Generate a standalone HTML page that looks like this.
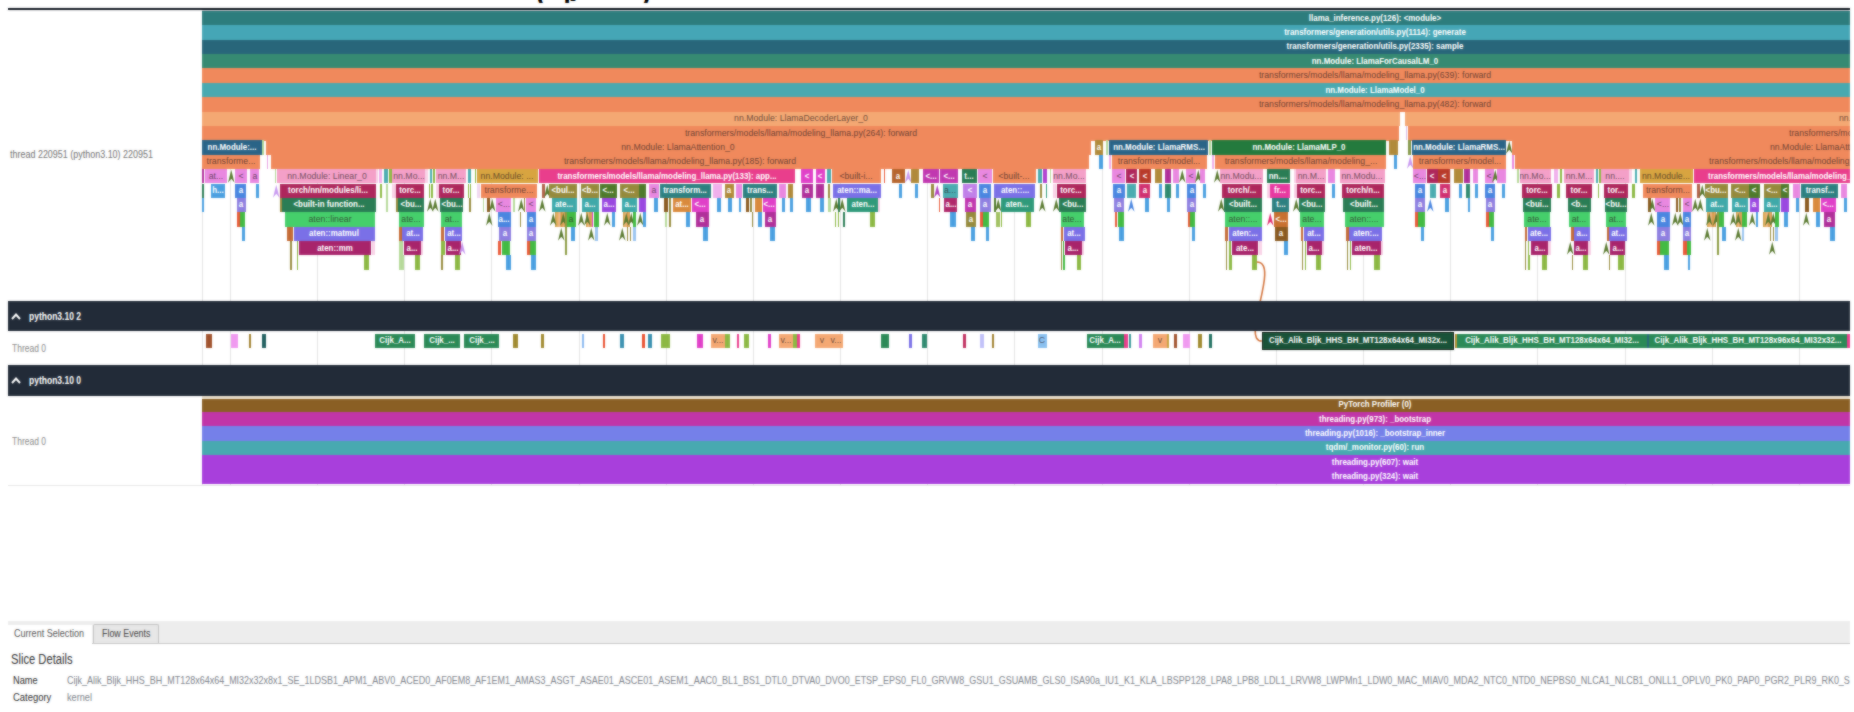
<!DOCTYPE html>
<html><head><meta charset="utf-8"><title>trace</title>
<style>
html,body{margin:0;padding:0;background:#fff}
body{width:1854px;height:712px;position:relative;overflow:hidden;font-family:"Liberation Sans",sans-serif}
#v{position:absolute;left:8px;top:0;width:1841.7px;height:712px;overflow:hidden}
#w{position:absolute;left:-8px;top:0;width:1854px;height:712px}
.s{position:absolute;overflow:hidden;white-space:nowrap}
.t{position:absolute;top:50%;margin-top:-6.6px;line-height:12px;font-size:9.5px;display:inline-block}
.w{color:#fff;font-weight:bold}
.d{color:rgba(45,32,30,.7)}
.c{position:absolute;overflow:visible}
.g{position:absolute;top:11px;width:1px;height:474px;background:#e5e5e5}
.hd{position:absolute;left:8px;width:1842px;background:#222b38;color:#fff}
.lbl{position:absolute;white-space:nowrap;display:inline-block;transform-origin:0 50%}
</style></head><body><div id="v"><div id="w">
<div class="g" style="left:201.6px"></div><div class="g" style="left:229.8px"></div><div class="g" style="left:317.0px"></div><div class="g" style="left:404.1px"></div><div class="g" style="left:491.3px"></div><div class="g" style="left:578.5px"></div><div class="g" style="left:665.7px"></div><div class="g" style="left:752.8px"></div><div class="g" style="left:840.0px"></div><div class="g" style="left:927.2px"></div><div class="g" style="left:1014.3px"></div><div class="g" style="left:1101.5px"></div><div class="g" style="left:1188.7px"></div><div class="g" style="left:1275.8px"></div><div class="g" style="left:1363.0px"></div><div class="g" style="left:1450.2px"></div><div class="g" style="left:1537.3px"></div><div class="g" style="left:1624.5px"></div><div class="g" style="left:1711.7px"></div><div class="g" style="left:1798.9px"></div>
<div class="s" style="left:8px;top:7.6px;width:1842px;height:2px;background:#0e141d"></div>
<div class="s" style="left:202px;top:9.6px;width:1648px;height:1.8px;background:linear-gradient(#aeb6bd,#dfe6e8)"></div>
<div class="s" style="left:530px;top:0;width:130px;height:3px"><span style="position:absolute;left:6px;top:-22.8px;font:bold 26px 'Liberation Sans',sans-serif;color:#000">(</span><span style="position:absolute;left:33.5px;top:-22.6px;font:bold 26px 'Liberation Sans',sans-serif;color:#000">p</span><span style="position:absolute;left:112px;top:-22.8px;font:bold 26px 'Liberation Sans',sans-serif;color:#000">)</span></div>
<div class="s" style="left:202.3px;top:11.4px;width:2345.7px;height:14.1px;background:#2e7d7d;"><span class="t w" style="left:50%;transform:translateX(-50%) scaleX(0.835)">llama_inference.py(126): &lt;module&gt;</span></div>
<div class="s" style="left:202.3px;top:25.2px;width:2345.7px;height:14.7px;background:#46a6b6;"><span class="t w" style="left:50%;transform:translateX(-50%) scaleX(0.835)">transformers/generation/utils.py(1114): generate</span></div>
<div class="s" style="left:202.3px;top:39.6px;width:2345.7px;height:14.7px;background:#28667a;"><span class="t w" style="left:50%;transform:translateX(-50%) scaleX(0.835)">transformers/generation/utils.py(2335): sample</span></div>
<div class="s" style="left:202.3px;top:54.0px;width:2345.7px;height:14.7px;background:#378b72;"><span class="t w" style="left:50%;transform:translateX(-50%) scaleX(0.835)">nn.Module: LlamaForCausalLM_0</span></div>
<div class="s" style="left:202.3px;top:68.4px;width:2345.7px;height:14.7px;background:#f0895c;"><span class="t d" style="left:50%;transform:translateX(-50%) scaleX(0.918)">transformers/models/llama/modeling_llama.py(639): forward</span></div>
<div class="s" style="left:202.3px;top:82.8px;width:2345.7px;height:14.7px;background:#49a9b0;"><span class="t w" style="left:50%;transform:translateX(-50%) scaleX(0.835)">nn.Module: LlamaModel_0</span></div>
<div class="s" style="left:202.3px;top:97.1px;width:2345.7px;height:14.7px;background:#f0895c;"><span class="t d" style="left:50%;transform:translateX(-50%) scaleX(0.918)">transformers/models/llama/modeling_llama.py(482): forward</span></div>
<div class="s" style="left:202.3px;top:111.5px;width:1198.1px;height:14.7px;background:#f4a873;"><span class="t d" style="left:50%;transform:translateX(-50%) scaleX(0.918)">nn.Module: LlamaDecoderLayer_0</span></div>
<div class="s" style="left:1404.9px;top:111.5px;width:445.1px;height:14.7px;background:#f4a873;"><span class="t d" style="left:434.1px;transform-origin:0 50%;transform:scaleX(0.918)">nn.Module: LlamaDecoderLayer_1</span></div>
<div class="s" style="left:202.3px;top:125.9px;width:1196.7px;height:14.7px;background:#f0895c;"><span class="t d" style="left:50%;transform:translateX(-50%) scaleX(0.918)">transformers/models/llama/modeling_llama.py(264): forward</span></div>
<div class="s" style="left:1405.8px;top:125.9px;width:1.4px;height:14.4px;background:#d8c0f0;"></div>
<div class="s" style="left:1407.5px;top:125.9px;width:442.5px;height:14.7px;background:#f0895c;"><span class="t d" style="left:381.9px;transform-origin:0 50%;transform:scaleX(0.918)">transformers/models/llama/modeling_llama.py(264): forward</span></div>
<div class="s" style="left:202.3px;top:140.3px;width:60.1px;height:14.4px;background:#2a6487;"><span class="t w" style="left:50%;transform:translateX(-50%) scaleX(0.835)">nn.Module:...</span></div>
<div class="s" style="left:262.4px;top:140.3px;width:1.6px;height:14.4px;background:#b5d99a;"></div>
<div class="s" style="left:265.6px;top:140.3px;width:825.4px;height:14.7px;background:#f0895c;"><span class="t d" style="left:50%;transform:translateX(-50%) scaleX(0.918)">nn.Module: LlamaAttention_0</span></div>
<div class="s" style="left:1094.8px;top:140.3px;width:8.4px;height:14.4px;background:#b08a3a;"><span class="t w" style="left:50%;transform:translateX(-50%) scaleX(0.835)">a</span></div>
<div class="s" style="left:1106.0px;top:140.3px;width:1.5px;height:14.4px;background:#b5d99a;"></div>
<div class="s" style="left:1109.0px;top:140.3px;width:99.3px;height:14.4px;background:#2a6487;"><span class="t w" style="left:50%;transform:translateX(-50%) scaleX(0.835)">nn.Module: LlamaRMS...</span></div>
<div class="s" style="left:1209.0px;top:140.3px;width:1.5px;height:14.4px;background:#b5d99a;"></div>
<div class="s" style="left:1212.0px;top:140.3px;width:174.3px;height:14.4px;background:#247a3d;"><span class="t w" style="left:50%;transform:translateX(-50%) scaleX(0.835)">nn.Module: LlamaMLP_0</span></div>
<div class="s" style="left:1389.0px;top:140.3px;width:9.3px;height:14.4px;background:#b08a3a;"></div>
<div class="s" style="left:1408.0px;top:140.3px;width:3.0px;height:14.4px;background:#84984a;"></div>
<div class="s" style="left:1411.5px;top:140.3px;width:94.9px;height:14.4px;background:#2a6487;"><span class="t w" style="left:50%;transform:translateX(-50%) scaleX(0.835)">nn.Module: LlamaRMS...</span></div>
<svg class="c" style="left:1505.8px;top:140.3px" width="6.5" height="14.39" viewBox="0 0 10 20"><path d="M5 0 L10 20 L5 14 L0 20 Z" fill="#5a7a30"/></svg>
<div class="s" style="left:1512.0px;top:140.3px;width:338.0px;height:14.7px;background:#f0895c;"><span class="t d" style="left:257.7px;transform-origin:0 50%;transform:scaleX(0.918)">nn.Module: LlamaAttention_1</span></div>
<div class="s" style="left:202.3px;top:154.7px;width:57.6px;height:14.4px;background:#f0895c;"><span class="t d" style="left:50%;transform:translateX(-50%) scaleX(0.918)">transforme...</span></div>
<div class="s" style="left:267.0px;top:154.7px;width:1.0px;height:14.4px;background:#e8a0e0;"></div>
<div class="s" style="left:271.2px;top:154.7px;width:817.8px;height:14.4px;background:#f0895c;"><span class="t d" style="left:50%;transform:translateX(-50%) scaleX(0.918)">transformers/models/llama/modeling_llama.py(185): forward</span></div>
<div class="s" style="left:1098.6px;top:154.7px;width:4.2px;height:14.4px;background:#4a9fe0;"></div>
<div class="s" style="left:1108.5px;top:154.7px;width:2.0px;height:14.4px;background:#f0b0ec;"></div>
<div class="s" style="left:1111.6px;top:154.7px;width:95.3px;height:14.4px;background:#f0895c;"><span class="t d" style="left:50%;transform:translateX(-50%) scaleX(0.918)">transformers/model...</span></div>
<div class="s" style="left:1212.0px;top:154.7px;width:2.0px;height:14.4px;background:#f0b0ec;"></div>
<div class="s" style="left:1215.3px;top:154.7px;width:171.0px;height:14.4px;background:#f0895c;"><span class="t d" style="left:50%;transform:translateX(-50%) scaleX(0.918)">transformers/models/llama/modeling_...</span></div>
<div class="s" style="left:1393.5px;top:154.7px;width:3.5px;height:14.4px;background:#4a9fe0;"></div>
<svg class="c" style="left:1406.8px;top:154.7px" width="6.5" height="14.39" viewBox="0 0 10 20"><path d="M5 0 L10 20 L5 14 L0 20 Z" fill="#c89af0"/></svg>
<div class="s" style="left:1413.0px;top:154.7px;width:93.4px;height:14.4px;background:#f0895c;"><span class="t d" style="left:50%;transform:translateX(-50%) scaleX(0.918)">transformers/model...</span></div>
<div class="s" style="left:1512.0px;top:154.7px;width:2.0px;height:14.4px;background:#e888e0;"></div>
<div class="s" style="left:1515.4px;top:154.7px;width:334.6px;height:14.4px;background:#f0895c;"><span class="t d" style="left:193.6px;transform-origin:0 50%;transform:scaleX(0.918)">transformers/models/llama/modeling_llama.py(185): forward</span></div>
<div class="s" style="left:202.4px;top:169.1px;width:2.1px;height:14.4px;background:#b0309a;"></div>
<div class="s" style="left:205.0px;top:169.1px;width:21.6px;height:14.4px;background:#e888e0;"><span class="t d" style="left:50%;transform:translateX(-50%) scaleX(0.918)">at...</span></div>
<svg class="c" style="left:228.2px;top:169.1px" width="6.5" height="14.39" viewBox="0 0 10 20"><path d="M5 0 L10 20 L5 14 L0 20 Z" fill="#5a7a30"/></svg>
<div class="s" style="left:235.0px;top:169.1px;width:11.6px;height:14.4px;background:#e888e0;"><span class="t d" style="left:50%;transform:translateX(-50%) scaleX(0.918)">&lt;</span></div>
<div class="s" style="left:250.0px;top:169.1px;width:9.0px;height:14.4px;background:#e888e0;"><span class="t d" style="left:50%;transform:translateX(-50%) scaleX(0.918)">a</span></div>
<div class="s" style="left:274.5px;top:169.1px;width:1.5px;height:14.4px;background:#b5d99a;"></div>
<div class="s" style="left:277.0px;top:169.1px;width:99.0px;height:14.4px;background:#f4a0c8;"><span class="t d" style="left:50%;transform:translateX(-50%) scaleX(0.918)">nn.Module: Linear_0</span></div>
<div class="s" style="left:376.0px;top:169.1px;width:2.0px;height:14.4px;background:#f9d2e6;"></div>
<div class="s" style="left:379.0px;top:169.1px;width:3.0px;height:14.4px;background:#f0b0ec;"></div>
<div class="s" style="left:383.5px;top:169.1px;width:4.2px;height:14.4px;background:#4aacb0;"></div>
<div class="s" style="left:389.0px;top:169.1px;width:2.7px;height:14.4px;background:#8cb843;"></div>
<div class="s" style="left:392.4px;top:169.1px;width:32.6px;height:14.4px;background:#f4a0c8;"><span class="t d" style="left:50%;transform:translateX(-50%) scaleX(0.918)">nn.Mo...</span></div>
<div class="s" style="left:425.0px;top:169.1px;width:3.0px;height:14.4px;background:#f9d2e6;"></div>
<div class="s" style="left:430.0px;top:169.1px;width:2.4px;height:14.4px;background:#4aacb0;"></div>
<div class="s" style="left:433.0px;top:169.1px;width:1.8px;height:14.4px;background:#8cb843;"></div>
<div class="s" style="left:435.5px;top:169.1px;width:30.5px;height:14.4px;background:#f4a0c8;"><span class="t d" style="left:50%;transform:translateX(-50%) scaleX(0.918)">nn.M...</span></div>
<div class="s" style="left:467.5px;top:169.1px;width:3.9px;height:14.4px;background:#4aacb0;"></div>
<div class="s" style="left:474.5px;top:169.1px;width:1.5px;height:14.4px;background:#8cb843;"></div>
<div class="s" style="left:477.0px;top:169.1px;width:60.7px;height:14.4px;background:#d8a440;"><span class="t d" style="left:50%;transform:translateX(-50%) scaleX(0.918)">nn.Module: ...</span></div>
<div class="s" style="left:538.8px;top:169.1px;width:255.8px;height:14.4px;background:#e83e8c;"><span class="t w" style="left:50%;transform:translateX(-50%) scaleX(0.835)">transformers/models/llama/modeling_llama.py(133): app...</span></div>
<div class="s" style="left:800.5px;top:169.1px;width:12.3px;height:14.4px;background:#e040c8;"><span class="t w" style="left:50%;transform:translateX(-50%) scaleX(0.835)">&lt;</span></div>
<div class="s" style="left:815.7px;top:169.1px;width:9.1px;height:14.4px;background:#e040c8;"><span class="t w" style="left:50%;transform:translateX(-50%) scaleX(0.835)">&lt;</span></div>
<div class="s" style="left:826.9px;top:169.1px;width:4.1px;height:14.4px;background:#4aacb0;"></div>
<div class="s" style="left:831.7px;top:169.1px;width:49.3px;height:14.4px;background:#f0895c;"><span class="t d" style="left:50%;transform:translateX(-50%) scaleX(0.918)">&lt;built-i...</span></div>
<div class="s" style="left:883.5px;top:169.1px;width:1.0px;height:14.4px;background:#e85a38;"></div>
<div class="s" style="left:891.5px;top:169.1px;width:13.3px;height:14.4px;background:#b5652d;"><span class="t w" style="left:50%;transform:translateX(-50%) scaleX(0.835)">a</span></div>
<svg class="c" style="left:905.2px;top:169.1px" width="6.5" height="14.39" viewBox="0 0 10 20"><path d="M5 0 L10 20 L5 14 L0 20 Z" fill="#c89af0"/></svg>
<div class="s" style="left:911.0px;top:169.1px;width:8.0px;height:14.4px;background:#b08a3a;"></div>
<div class="s" style="left:923.0px;top:169.1px;width:16.0px;height:14.4px;background:#c038b0;"><span class="t w" style="left:50%;transform:translateX(-50%) scaleX(0.835)">&lt;...</span></div>
<div class="s" style="left:939.5px;top:169.1px;width:18.0px;height:14.4px;background:#c038b0;"><span class="t w" style="left:50%;transform:translateX(-50%) scaleX(0.835)">&lt;...</span></div>
<div class="s" style="left:961.7px;top:169.1px;width:15.1px;height:14.4px;background:#2a7d55;"><span class="t w" style="left:50%;transform:translateX(-50%) scaleX(0.835)">t...</span></div>
<div class="s" style="left:978.0px;top:169.1px;width:13.6px;height:14.4px;background:#e888e0;"><span class="t d" style="left:50%;transform:translateX(-50%) scaleX(0.918)">&lt;</span></div>
<div class="s" style="left:992.6px;top:169.1px;width:43.2px;height:14.4px;background:#f0895c;"><span class="t d" style="left:50%;transform:translateX(-50%) scaleX(0.918)">&lt;built-...</span></div>
<div class="s" style="left:1038.3px;top:169.1px;width:3.7px;height:14.4px;background:#4aacb0;"></div>
<div class="s" style="left:1042.8px;top:169.1px;width:4.6px;height:14.4px;background:#b040d0;"></div>
<div class="s" style="left:1049.5px;top:169.1px;width:1.5px;height:14.4px;background:#b5d99a;"></div>
<div class="s" style="left:1052.7px;top:169.1px;width:33.3px;height:14.4px;background:#f4a0c8;"><span class="t d" style="left:50%;transform:translateX(-50%) scaleX(0.918)">nn.Mo...</span></div>
<div class="s" style="left:1112.0px;top:169.1px;width:13.3px;height:14.4px;background:#e888e0;"><span class="t d" style="left:50%;transform:translateX(-50%) scaleX(0.918)">&lt;</span></div>
<div class="s" style="left:1126.4px;top:169.1px;width:10.9px;height:14.4px;background:#ae275c;"><span class="t w" style="left:50%;transform:translateX(-50%) scaleX(0.835)">&lt;</span></div>
<div class="s" style="left:1139.0px;top:169.1px;width:12.2px;height:14.4px;background:#b83a2a;"><span class="t w" style="left:50%;transform:translateX(-50%) scaleX(0.835)">&lt;</span></div>
<div class="s" style="left:1155.4px;top:169.1px;width:6.8px;height:14.4px;background:#b08a3a;"></div>
<div class="s" style="left:1164.7px;top:169.1px;width:5.9px;height:14.4px;background:#b0309a;"></div>
<div class="s" style="left:1172.7px;top:169.1px;width:6.7px;height:14.4px;background:#e888e0;"></div>
<svg class="c" style="left:1179.2px;top:169.1px" width="6.5" height="14.39" viewBox="0 0 10 20"><path d="M5 0 L10 20 L5 14 L0 20 Z" fill="#5a7a30"/></svg>
<div class="s" style="left:1186.4px;top:169.1px;width:9.9px;height:14.4px;background:#e888e0;"><span class="t d" style="left:50%;transform:translateX(-50%) scaleX(0.918)">&lt;</span></div>
<svg class="c" style="left:1194.5px;top:169.1px" width="6.5" height="14.39" viewBox="0 0 10 20"><path d="M5 0 L10 20 L5 14 L0 20 Z" fill="#5a7a30"/></svg>
<div class="s" style="left:1199.5px;top:169.1px;width:5.9px;height:14.4px;background:#e888e0;"></div>
<svg class="c" style="left:1214.2px;top:169.1px" width="6.5" height="14.39" viewBox="0 0 10 20"><path d="M5 0 L10 20 L5 14 L0 20 Z" fill="#5a7a30"/></svg>
<div class="s" style="left:1220.0px;top:169.1px;width:42.7px;height:14.4px;background:#f4a0c8;"><span class="t d" style="left:50%;transform:translateX(-50%) scaleX(0.918)">nn.Modu...</span></div>
<div class="s" style="left:1266.5px;top:169.1px;width:23.5px;height:14.4px;background:#2a7d55;"><span class="t w" style="left:50%;transform:translateX(-50%) scaleX(0.835)">nn....</span></div>
<div class="s" style="left:1293.5px;top:169.1px;width:2.5px;height:14.4px;background:#f9d2e6;"></div>
<div class="s" style="left:1296.0px;top:169.1px;width:29.9px;height:14.4px;background:#f4a0c8;"><span class="t d" style="left:50%;transform:translateX(-50%) scaleX(0.918)">nn.M...</span></div>
<div class="s" style="left:1327.5px;top:169.1px;width:7.2px;height:14.4px;background:#e888e0;"></div>
<div class="s" style="left:1340.0px;top:169.1px;width:44.8px;height:14.4px;background:#f4a0c8;"><span class="t d" style="left:50%;transform:translateX(-50%) scaleX(0.918)">nn.Modu...</span></div>
<div class="s" style="left:1413.0px;top:169.1px;width:13.3px;height:14.4px;background:#e888e0;"><span class="t d" style="left:50%;transform:translateX(-50%) scaleX(0.918)">&lt;...</span></div>
<div class="s" style="left:1427.0px;top:169.1px;width:10.6px;height:14.4px;background:#ae275c;"><span class="t w" style="left:50%;transform:translateX(-50%) scaleX(0.835)">&lt;</span></div>
<div class="s" style="left:1438.4px;top:169.1px;width:11.2px;height:14.4px;background:#b83a2a;"><span class="t w" style="left:50%;transform:translateX(-50%) scaleX(0.835)">&lt;</span></div>
<div class="s" style="left:1454.4px;top:169.1px;width:8.4px;height:14.4px;background:#b08a3a;"></div>
<div class="s" style="left:1464.2px;top:169.1px;width:6.2px;height:14.4px;background:#b0309a;"></div>
<div class="s" style="left:1472.7px;top:169.1px;width:5.6px;height:14.4px;background:#e888e0;"></div>
<div class="s" style="left:1484.5px;top:169.1px;width:9.2px;height:14.4px;background:#e888e0;"><span class="t d" style="left:50%;transform:translateX(-50%) scaleX(0.918)">&lt;</span></div>
<svg class="c" style="left:1492.2px;top:169.1px" width="6.5" height="14.39" viewBox="0 0 10 20"><path d="M5 0 L10 20 L5 14 L0 20 Z" fill="#5a7a30"/></svg>
<div class="s" style="left:1497.4px;top:169.1px;width:8.4px;height:14.4px;background:#e888e0;"></div>
<div class="s" style="left:1517.0px;top:169.1px;width:2.0px;height:14.4px;background:#b5d99a;"></div>
<div class="s" style="left:1519.8px;top:169.1px;width:30.9px;height:14.4px;background:#f4a0c8;"><span class="t d" style="left:50%;transform:translateX(-50%) scaleX(0.918)">nn.Mo...</span></div>
<div class="s" style="left:1554.0px;top:169.1px;width:3.5px;height:14.4px;background:#f0b0ec;"></div>
<div class="s" style="left:1559.7px;top:169.1px;width:2.3px;height:14.4px;background:#8cb843;"></div>
<div class="s" style="left:1564.0px;top:169.1px;width:30.0px;height:14.4px;background:#f4a0c8;"><span class="t d" style="left:50%;transform:translateX(-50%) scaleX(0.918)">nn.M...</span></div>
<div class="s" style="left:1596.2px;top:169.1px;width:1.8px;height:14.4px;background:#4aacb0;"></div>
<div class="s" style="left:1598.5px;top:169.1px;width:2.0px;height:14.4px;background:#8cb843;"></div>
<div class="s" style="left:1601.2px;top:169.1px;width:28.1px;height:14.4px;background:#f4a0c8;"><span class="t d" style="left:50%;transform:translateX(-50%) scaleX(0.918)">nn....</span></div>
<div class="s" style="left:1629.3px;top:169.1px;width:2.7px;height:14.4px;background:#f9d2e6;"></div>
<div class="s" style="left:1635.0px;top:169.1px;width:2.0px;height:14.4px;background:#4aacb0;"></div>
<div class="s" style="left:1640.0px;top:169.1px;width:52.5px;height:14.4px;background:#d8a440;"><span class="t d" style="left:50%;transform:translateX(-50%) scaleX(0.918)">nn.Module...</span></div>
<div class="s" style="left:1694.0px;top:169.1px;width:156.0px;height:14.4px;background:#e83e8c;"><span class="t w" style="left:14.0px;transform-origin:0 50%;transform:scaleX(0.835)">transformers/models/llama/modeling_llama.py(133): apply_rotary_pos_emb</span></div>
<div class="s" style="left:202.4px;top:183.5px;width:2.1px;height:14.4px;background:#2a7d55;"></div>
<div class="s" style="left:211.4px;top:183.5px;width:14.1px;height:14.4px;background:#4a9fe0;"><span class="t w" style="left:50%;transform:translateX(-50%) scaleX(0.835)">h...</span></div>
<div class="s" style="left:235.4px;top:183.5px;width:10.8px;height:14.4px;background:#4a86e0;"><span class="t w" style="left:50%;transform:translateX(-50%) scaleX(0.835)">a</span></div>
<div class="s" style="left:256.0px;top:183.5px;width:2.8px;height:14.4px;background:#4a9fe0;"></div>
<svg class="c" style="left:273.2px;top:183.5px" width="6.5" height="14.39" viewBox="0 0 10 20"><path d="M5 0 L10 20 L5 14 L0 20 Z" fill="#c89af0"/></svg>
<div class="s" style="left:280.3px;top:183.5px;width:95.7px;height:14.4px;background:#ae275c;"><span class="t w" style="left:50%;transform:translateX(-50%) scaleX(0.835)">torch/nn/modules/li...</span></div>
<div class="s" style="left:380.3px;top:183.5px;width:2.1px;height:14.4px;background:#8cb843;"></div>
<div class="s" style="left:385.6px;top:183.5px;width:2.1px;height:14.4px;background:#b5d99a;"></div>
<div class="s" style="left:392.4px;top:183.5px;width:3.6px;height:14.4px;background:#f9d2e6;"></div>
<div class="s" style="left:396.0px;top:183.5px;width:28.4px;height:14.4px;background:#ae275c;"><span class="t w" style="left:50%;transform:translateX(-50%) scaleX(0.835)">torc...</span></div>
<div class="s" style="left:428.5px;top:183.5px;width:1.5px;height:14.4px;background:#8cb843;"></div>
<div class="s" style="left:431.0px;top:183.5px;width:1.5px;height:14.4px;background:#8cb843;"></div>
<div class="s" style="left:435.5px;top:183.5px;width:3.2px;height:14.4px;background:#f9d2e6;"></div>
<div class="s" style="left:438.7px;top:183.5px;width:25.3px;height:14.4px;background:#ae275c;"><span class="t w" style="left:50%;transform:translateX(-50%) scaleX(0.835)">tor...</span></div>
<div class="s" style="left:467.5px;top:183.5px;width:1.5px;height:14.4px;background:#8cb843;"></div>
<div class="s" style="left:470.0px;top:183.5px;width:1.0px;height:14.4px;background:#8cb843;"></div>
<div class="s" style="left:477.3px;top:183.5px;width:3.2px;height:14.4px;background:#f0d8f0;"></div>
<div class="s" style="left:480.8px;top:183.5px;width:55.8px;height:14.4px;background:#f0895c;"><span class="t d" style="left:50%;transform:translateX(-50%) scaleX(0.918)">transforme...</span></div>
<div class="s" style="left:542.0px;top:183.5px;width:3.0px;height:14.4px;background:#b06048;"></div>
<svg class="c" style="left:543.5px;top:183.5px" width="6.5" height="14.39" viewBox="0 0 10 20"><path d="M5 0 L10 20 L5 14 L0 20 Z" fill="#5a7a30"/></svg>
<div class="s" style="left:549.4px;top:183.5px;width:28.0px;height:14.4px;background:#968a3c;"><span class="t w" style="left:50%;transform:translateX(-50%) scaleX(0.835)">&lt;bul...</span></div>
<div class="s" style="left:581.2px;top:183.5px;width:18.3px;height:14.4px;background:#968a3c;"><span class="t w" style="left:50%;transform:translateX(-50%) scaleX(0.835)">&lt;b...</span></div>
<div class="s" style="left:599.5px;top:183.5px;width:17.3px;height:14.4px;background:#4f7a2c;"><span class="t w" style="left:50%;transform:translateX(-50%) scaleX(0.835)">&lt;...</span></div>
<div class="s" style="left:620.0px;top:183.5px;width:18.5px;height:14.4px;background:#968a3c;"><span class="t w" style="left:50%;transform:translateX(-50%) scaleX(0.835)">&lt;...</span></div>
<div class="s" style="left:638.5px;top:183.5px;width:7.8px;height:14.4px;background:#4f7a2c;"></div>
<div class="s" style="left:649.0px;top:183.5px;width:10.0px;height:14.4px;background:#e888e0;"><span class="t d" style="left:50%;transform:translateX(-50%) scaleX(0.918)">a</span></div>
<div class="s" style="left:660.0px;top:183.5px;width:50.7px;height:14.4px;background:#2e8080;"><span class="t w" style="left:50%;transform:translateX(-50%) scaleX(0.835)">transform...</span></div>
<div class="s" style="left:713.0px;top:183.5px;width:8.7px;height:14.4px;background:#f0b0ec;"></div>
<div class="s" style="left:724.8px;top:183.5px;width:9.1px;height:14.4px;background:#b08a3a;"><span class="t w" style="left:50%;transform:translateX(-50%) scaleX(0.835)">a</span></div>
<div class="s" style="left:736.0px;top:183.5px;width:5.7px;height:14.4px;background:#e888e0;"></div>
<div class="s" style="left:743.0px;top:183.5px;width:34.0px;height:14.4px;background:#2e8080;"><span class="t w" style="left:50%;transform:translateX(-50%) scaleX(0.835)">trans...</span></div>
<div class="s" style="left:779.0px;top:183.5px;width:6.8px;height:14.4px;background:#e888e0;"></div>
<div class="s" style="left:788.0px;top:183.5px;width:4.8px;height:14.4px;background:#b08a3a;"></div>
<div class="s" style="left:801.6px;top:183.5px;width:11.2px;height:14.4px;background:#b0309a;"><span class="t w" style="left:50%;transform:translateX(-50%) scaleX(0.835)">a</span></div>
<div class="s" style="left:815.7px;top:183.5px;width:8.3px;height:14.4px;background:#b0309a;"></div>
<div class="s" style="left:827.5px;top:183.5px;width:2.5px;height:14.4px;background:#968a3c;"></div>
<div class="s" style="left:833.0px;top:183.5px;width:47.6px;height:14.4px;background:#7a70e6;"><span class="t w" style="left:50%;transform:translateX(-50%) scaleX(0.835)">aten::ma...</span></div>
<div class="s" style="left:898.5px;top:183.5px;width:3.1px;height:14.4px;background:#4a9fe0;"></div>
<div class="s" style="left:914.7px;top:183.5px;width:3.8px;height:14.4px;background:#4a9fe0;"></div>
<div class="s" style="left:931.0px;top:183.5px;width:3.0px;height:14.4px;background:#968a3c;"></div>
<svg class="c" style="left:933.5px;top:183.5px" width="6.5" height="14.39" viewBox="0 0 10 20"><path d="M5 0 L10 20 L5 14 L0 20 Z" fill="#b040c0"/></svg>
<div class="s" style="left:943.0px;top:183.5px;width:14.5px;height:14.4px;background:#4aacb0;"><span class="t d" style="left:50%;transform:translateX(-50%) scaleX(0.918)">a...</span></div>
<div class="s" style="left:962.7px;top:183.5px;width:14.1px;height:14.4px;background:#c080e8;"><span class="t w" style="left:50%;transform:translateX(-50%) scaleX(0.835)">&lt;</span></div>
<div class="s" style="left:979.0px;top:183.5px;width:12.2px;height:14.4px;background:#4a86e0;"><span class="t w" style="left:50%;transform:translateX(-50%) scaleX(0.835)">a</span></div>
<div class="s" style="left:994.3px;top:183.5px;width:40.9px;height:14.4px;background:#7a70e6;"><span class="t w" style="left:50%;transform:translateX(-50%) scaleX(0.835)">aten::...</span></div>
<div class="s" style="left:1040.0px;top:183.5px;width:2.0px;height:14.4px;background:#968a3c;"></div>
<div class="s" style="left:1045.5px;top:183.5px;width:1.5px;height:14.4px;background:#2f9a7a;"></div>
<div class="s" style="left:1052.7px;top:183.5px;width:3.8px;height:14.4px;background:#f9d2e6;"></div>
<div class="s" style="left:1056.5px;top:183.5px;width:29.5px;height:14.4px;background:#ae275c;"><span class="t w" style="left:50%;transform:translateX(-50%) scaleX(0.835)">torc...</span></div>
<div class="s" style="left:1113.3px;top:183.5px;width:11.4px;height:14.4px;background:#4a86e0;"><span class="t w" style="left:50%;transform:translateX(-50%) scaleX(0.835)">a</span></div>
<div class="s" style="left:1127.4px;top:183.5px;width:9.1px;height:14.4px;background:#4aacb0;"></div>
<div class="s" style="left:1139.4px;top:183.5px;width:10.6px;height:14.4px;background:#d03070;"><span class="t w" style="left:50%;transform:translateX(-50%) scaleX(0.835)">a</span></div>
<div class="s" style="left:1159.0px;top:183.5px;width:3.0px;height:14.4px;background:#4a9fe0;"></div>
<div class="s" style="left:1165.3px;top:183.5px;width:5.3px;height:14.4px;background:#2f8a70;"></div>
<div class="s" style="left:1176.3px;top:183.5px;width:3.2px;height:14.4px;background:#4a9fe0;"></div>
<div class="s" style="left:1187.3px;top:183.5px;width:9.0px;height:14.4px;background:#4a86e0;"><span class="t w" style="left:50%;transform:translateX(-50%) scaleX(0.835)">a</span></div>
<div class="s" style="left:1203.3px;top:183.5px;width:2.5px;height:14.4px;background:#4a9fe0;"></div>
<div class="s" style="left:1222.2px;top:183.5px;width:40.0px;height:14.4px;background:#ae275c;"><span class="t w" style="left:50%;transform:translateX(-50%) scaleX(0.835)">torch/...</span></div>
<div class="s" style="left:1267.0px;top:183.5px;width:3.0px;height:14.4px;background:#f9d2e6;"></div>
<div class="s" style="left:1270.0px;top:183.5px;width:19.6px;height:14.4px;background:#e838a0;"><span class="t w" style="left:50%;transform:translateX(-50%) scaleX(0.835)">fr...</span></div>
<div class="s" style="left:1294.0px;top:183.5px;width:2.8px;height:14.4px;background:#f9d2e6;"></div>
<div class="s" style="left:1296.8px;top:183.5px;width:28.6px;height:14.4px;background:#ae275c;"><span class="t w" style="left:50%;transform:translateX(-50%) scaleX(0.835)">torc...</span></div>
<div class="s" style="left:1332.0px;top:183.5px;width:2.7px;height:14.4px;background:#4a9fe0;"></div>
<div class="s" style="left:1342.3px;top:183.5px;width:42.1px;height:14.4px;background:#ae275c;"><span class="t w" style="left:50%;transform:translateX(-50%) scaleX(0.835)">torch/n...</span></div>
<div class="s" style="left:1415.0px;top:183.5px;width:10.0px;height:14.4px;background:#4a86e0;"><span class="t w" style="left:50%;transform:translateX(-50%) scaleX(0.835)">a</span></div>
<div class="s" style="left:1430.0px;top:183.5px;width:6.2px;height:14.4px;background:#4aacb0;"></div>
<div class="s" style="left:1440.4px;top:183.5px;width:9.2px;height:14.4px;background:#d03070;"><span class="t w" style="left:50%;transform:translateX(-50%) scaleX(0.835)">a</span></div>
<div class="s" style="left:1458.6px;top:183.5px;width:3.4px;height:14.4px;background:#4a9fe0;"></div>
<div class="s" style="left:1465.6px;top:183.5px;width:4.3px;height:14.4px;background:#2f8a70;"></div>
<div class="s" style="left:1475.0px;top:183.5px;width:2.7px;height:14.4px;background:#4a9fe0;"></div>
<div class="s" style="left:1485.3px;top:183.5px;width:9.3px;height:14.4px;background:#4a86e0;"><span class="t w" style="left:50%;transform:translateX(-50%) scaleX(0.835)">a</span></div>
<div class="s" style="left:1502.0px;top:183.5px;width:3.0px;height:14.4px;background:#4a9fe0;"></div>
<div class="s" style="left:1521.8px;top:183.5px;width:30.1px;height:14.4px;background:#ae275c;"><span class="t w" style="left:50%;transform:translateX(-50%) scaleX(0.835)">torc...</span></div>
<div class="s" style="left:1557.0px;top:183.5px;width:2.5px;height:14.4px;background:#8cb843;"></div>
<div class="s" style="left:1566.0px;top:183.5px;width:26.0px;height:14.4px;background:#ae275c;"><span class="t w" style="left:50%;transform:translateX(-50%) scaleX(0.835)">tor...</span></div>
<div class="s" style="left:1597.5px;top:183.5px;width:1.5px;height:14.4px;background:#8cb843;"></div>
<div class="s" style="left:1603.5px;top:183.5px;width:24.5px;height:14.4px;background:#ae275c;"><span class="t w" style="left:50%;transform:translateX(-50%) scaleX(0.835)">tor...</span></div>
<div class="s" style="left:1632.0px;top:183.5px;width:2.5px;height:14.4px;background:#8cb843;"></div>
<div class="s" style="left:1642.8px;top:183.5px;width:49.7px;height:14.4px;background:#f0895c;"><span class="t d" style="left:50%;transform:translateX(-50%) scaleX(0.918)">transform...</span></div>
<div class="s" style="left:1697.0px;top:183.5px;width:3.0px;height:14.4px;background:#b06048;"></div>
<svg class="c" style="left:1698.8px;top:183.5px" width="6.5" height="14.39" viewBox="0 0 10 20"><path d="M5 0 L10 20 L5 14 L0 20 Z" fill="#5a7a30"/></svg>
<div class="s" style="left:1704.6px;top:183.5px;width:23.0px;height:14.4px;background:#968a3c;"><span class="t w" style="left:50%;transform:translateX(-50%) scaleX(0.835)">&lt;bu...</span></div>
<div class="s" style="left:1731.0px;top:183.5px;width:17.7px;height:14.4px;background:#968a3c;"><span class="t w" style="left:50%;transform:translateX(-50%) scaleX(0.835)">&lt;...</span></div>
<div class="s" style="left:1748.7px;top:183.5px;width:11.3px;height:14.4px;background:#4f7a2c;"><span class="t w" style="left:50%;transform:translateX(-50%) scaleX(0.835)">&lt;</span></div>
<div class="s" style="left:1763.5px;top:183.5px;width:17.5px;height:14.4px;background:#968a3c;"><span class="t w" style="left:50%;transform:translateX(-50%) scaleX(0.835)">&lt;...</span></div>
<div class="s" style="left:1781.0px;top:183.5px;width:8.4px;height:14.4px;background:#4f7a2c;"><span class="t w" style="left:50%;transform:translateX(-50%) scaleX(0.835)">&lt;</span></div>
<div class="s" style="left:1792.7px;top:183.5px;width:7.3px;height:14.4px;background:#e888e0;"></div>
<div class="s" style="left:1801.2px;top:183.5px;width:37.3px;height:14.4px;background:#2e8080;"><span class="t w" style="left:50%;transform:translateX(-50%) scaleX(0.835)">transf...</span></div>
<div class="s" style="left:1841.3px;top:183.5px;width:5.7px;height:14.4px;background:#e888e0;"></div>
<div class="s" style="left:202.4px;top:197.9px;width:1.4px;height:14.4px;background:#4a9fe0;"></div>
<div class="s" style="left:237.0px;top:197.9px;width:8.5px;height:14.4px;background:#8e7fe0;"><span class="t w" style="left:50%;transform:translateX(-50%) scaleX(0.835)">a</span></div>
<div class="s" style="left:280.0px;top:197.9px;width:2.4px;height:14.4px;background:#968a3c;"></div>
<div class="s" style="left:282.4px;top:197.9px;width:93.6px;height:14.4px;background:#2a7d55;"><span class="t w" style="left:50%;transform:translateX(-50%) scaleX(0.835)">&lt;built-in function...</span></div>
<div class="s" style="left:385.6px;top:197.9px;width:2.1px;height:14.4px;background:#b5d99a;"></div>
<div class="s" style="left:395.5px;top:197.9px;width:2.1px;height:14.4px;background:#968a3c;"></div>
<div class="s" style="left:397.6px;top:197.9px;width:26.8px;height:14.4px;background:#2a7d55;"><span class="t w" style="left:50%;transform:translateX(-50%) scaleX(0.835)">&lt;bu...</span></div>
<svg class="c" style="left:427.2px;top:197.9px" width="6.5" height="14.39" viewBox="0 0 10 20"><path d="M5 0 L10 20 L5 14 L0 20 Z" fill="#5a7a30"/></svg>
<svg class="c" style="left:431.8px;top:197.9px" width="6.5" height="14.39" viewBox="0 0 10 20"><path d="M5 0 L10 20 L5 14 L0 20 Z" fill="#5a7a30"/></svg>
<div class="s" style="left:440.0px;top:197.9px;width:23.3px;height:14.4px;background:#2a7d55;"><span class="t w" style="left:50%;transform:translateX(-50%) scaleX(0.835)">&lt;bu...</span></div>
<div class="s" style="left:469.2px;top:197.9px;width:1.6px;height:14.4px;background:#968a3c;"></div>
<div class="s" style="left:483.0px;top:197.9px;width:1.0px;height:14.4px;background:#b5d99a;"></div>
<div class="s" style="left:487.0px;top:197.9px;width:3.0px;height:14.4px;background:#8a5a20;"></div>
<svg class="c" style="left:489.2px;top:197.9px" width="6.5" height="14.39" viewBox="0 0 10 20"><path d="M5 0 L10 20 L5 14 L0 20 Z" fill="#5a7a30"/></svg>
<div class="s" style="left:496.0px;top:197.9px;width:15.0px;height:14.4px;background:#e888e0;"><span class="t d" style="left:50%;transform:translateX(-50%) scaleX(0.918)">&lt;...</span></div>
<div class="s" style="left:512.5px;top:197.9px;width:2.0px;height:14.4px;background:#b5d99a;"></div>
<svg class="c" style="left:518.2px;top:197.9px" width="6.5" height="14.39" viewBox="0 0 10 20"><path d="M5 0 L10 20 L5 14 L0 20 Z" fill="#5a7a30"/></svg>
<div class="s" style="left:523.5px;top:197.9px;width:1.5px;height:14.4px;background:#968a3c;"></div>
<div class="s" style="left:525.7px;top:197.9px;width:10.5px;height:14.4px;background:#e888e0;"><span class="t d" style="left:50%;transform:translateX(-50%) scaleX(0.918)">&lt;</span></div>
<svg class="c" style="left:539.2px;top:197.9px" width="6.5" height="14.39" viewBox="0 0 10 20"><path d="M5 0 L10 20 L5 14 L0 20 Z" fill="#5a7a30"/></svg>
<div class="s" style="left:552.0px;top:197.9px;width:24.8px;height:14.4px;background:#3fa9a9;"><span class="t w" style="left:50%;transform:translateX(-50%) scaleX(0.835)">ate...</span></div>
<div class="s" style="left:582.0px;top:197.9px;width:16.5px;height:14.4px;background:#3fa9a9;"><span class="t w" style="left:50%;transform:translateX(-50%) scaleX(0.835)">a...</span></div>
<div class="s" style="left:602.0px;top:197.9px;width:14.0px;height:14.4px;background:#9a48e0;"><span class="t w" style="left:50%;transform:translateX(-50%) scaleX(0.835)">a...</span></div>
<div class="s" style="left:622.0px;top:197.9px;width:15.4px;height:14.4px;background:#3fa9a9;"><span class="t w" style="left:50%;transform:translateX(-50%) scaleX(0.835)">a...</span></div>
<div class="s" style="left:638.5px;top:197.9px;width:7.3px;height:14.4px;background:#9a48e0;"></div>
<div class="s" style="left:654.0px;top:197.9px;width:4.0px;height:14.4px;background:#4a9fe0;"></div>
<div class="s" style="left:664.4px;top:197.9px;width:3.6px;height:14.4px;background:#8a5a20;"></div>
<div class="s" style="left:669.4px;top:197.9px;width:1.4px;height:14.4px;background:#968a3c;"></div>
<div class="s" style="left:673.0px;top:197.9px;width:18.0px;height:14.4px;background:#d98a3d;"><span class="t w" style="left:50%;transform:translateX(-50%) scaleX(0.835)">at...</span></div>
<div class="s" style="left:691.8px;top:197.9px;width:17.2px;height:14.4px;background:#e040c8;"><span class="t w" style="left:50%;transform:translateX(-50%) scaleX(0.835)">&lt;...</span></div>
<div class="s" style="left:717.0px;top:197.9px;width:3.6px;height:14.4px;background:#4a9fe0;"></div>
<div class="s" style="left:728.0px;top:197.9px;width:4.0px;height:14.4px;background:#4a9fe0;"></div>
<div class="s" style="left:738.5px;top:197.9px;width:2.1px;height:14.4px;background:#4a9fe0;"></div>
<div class="s" style="left:746.0px;top:197.9px;width:3.0px;height:14.4px;background:#8a5a20;"></div>
<div class="s" style="left:750.0px;top:197.9px;width:2.0px;height:14.4px;background:#968a3c;"></div>
<div class="s" style="left:754.6px;top:197.9px;width:7.4px;height:14.4px;background:#d98a3d;"></div>
<div class="s" style="left:762.6px;top:197.9px;width:13.7px;height:14.4px;background:#e040c8;"><span class="t w" style="left:50%;transform:translateX(-50%) scaleX(0.835)">&lt;...</span></div>
<div class="s" style="left:782.0px;top:197.9px;width:3.4px;height:14.4px;background:#4a9fe0;"></div>
<div class="s" style="left:789.6px;top:197.9px;width:3.2px;height:14.4px;background:#4a9fe0;"></div>
<div class="s" style="left:805.8px;top:197.9px;width:5.2px;height:14.4px;background:#4a9fe0;"></div>
<div class="s" style="left:820.0px;top:197.9px;width:3.7px;height:14.4px;background:#4a9fe0;"></div>
<div class="s" style="left:828.3px;top:197.9px;width:2.7px;height:14.4px;background:#b5d99a;"></div>
<svg class="c" style="left:833.2px;top:197.9px" width="6.5" height="14.39" viewBox="0 0 10 20"><path d="M5 0 L10 20 L5 14 L0 20 Z" fill="#5a7a30"/></svg>
<div class="s" style="left:838.3px;top:197.9px;width:1.5px;height:14.4px;background:#2a7d55;"></div>
<svg class="c" style="left:838.8px;top:197.9px" width="6.5" height="14.39" viewBox="0 0 10 20"><path d="M5 0 L10 20 L5 14 L0 20 Z" fill="#5a7a30"/></svg>
<div class="s" style="left:847.3px;top:197.9px;width:30.7px;height:14.4px;background:#2f9a7a;"><span class="t w" style="left:50%;transform:translateX(-50%) scaleX(0.835)">aten...</span></div>
<div class="s" style="left:878.0px;top:197.9px;width:2.0px;height:14.4px;background:#f9d2e6;"></div>
<div class="s" style="left:938.5px;top:197.9px;width:1.5px;height:14.4px;background:#e85a38;"></div>
<div class="s" style="left:943.8px;top:197.9px;width:13.7px;height:14.4px;background:#b0286a;"><span class="t w" style="left:50%;transform:translateX(-50%) scaleX(0.835)">a...</span></div>
<div class="s" style="left:964.6px;top:197.9px;width:11.8px;height:14.4px;background:#c038b0;"><span class="t w" style="left:50%;transform:translateX(-50%) scaleX(0.835)">a</span></div>
<div class="s" style="left:980.0px;top:197.9px;width:10.5px;height:14.4px;background:#8e7fe0;"><span class="t w" style="left:50%;transform:translateX(-50%) scaleX(0.835)">a</span></div>
<div class="s" style="left:994.3px;top:197.9px;width:1.7px;height:14.4px;background:#4f7a2c;"></div>
<svg class="c" style="left:994.8px;top:197.9px" width="6.5" height="14.39" viewBox="0 0 10 20"><path d="M5 0 L10 20 L5 14 L0 20 Z" fill="#5a7a30"/></svg>
<div class="s" style="left:1001.0px;top:197.9px;width:32.7px;height:14.4px;background:#2f9a7a;"><span class="t w" style="left:50%;transform:translateX(-50%) scaleX(0.835)">aten...</span></div>
<svg class="c" style="left:1038.8px;top:197.9px" width="6.5" height="14.39" viewBox="0 0 10 20"><path d="M5 0 L10 20 L5 14 L0 20 Z" fill="#5a7a30"/></svg>
<svg class="c" style="left:1053.2px;top:197.9px" width="6.5" height="14.39" viewBox="0 0 10 20"><path d="M5 0 L10 20 L5 14 L0 20 Z" fill="#5a7a30"/></svg>
<div class="s" style="left:1059.0px;top:197.9px;width:27.0px;height:14.4px;background:#2a7d55;"><span class="t w" style="left:50%;transform:translateX(-50%) scaleX(0.835)">&lt;bu...</span></div>
<div class="s" style="left:1113.7px;top:197.9px;width:10.2px;height:14.4px;background:#8e7fe0;"><span class="t w" style="left:50%;transform:translateX(-50%) scaleX(0.835)">a</span></div>
<svg class="c" style="left:1127.8px;top:197.9px" width="6.5" height="14.39" viewBox="0 0 10 20"><path d="M5 0 L10 20 L5 14 L0 20 Z" fill="#4a86e0"/></svg>
<div class="s" style="left:1145.3px;top:197.9px;width:3.7px;height:14.4px;background:#4a9fe0;"></div>
<div class="s" style="left:1167.0px;top:197.9px;width:3.2px;height:14.4px;background:#4a9fe0;"></div>
<div class="s" style="left:1187.3px;top:197.9px;width:9.0px;height:14.4px;background:#8e7fe0;"><span class="t w" style="left:50%;transform:translateX(-50%) scaleX(0.835)">a</span></div>
<svg class="c" style="left:1218.0px;top:197.9px" width="6.5" height="14.39" viewBox="0 0 10 20"><path d="M5 0 L10 20 L5 14 L0 20 Z" fill="#5a7a30"/></svg>
<div class="s" style="left:1223.7px;top:197.9px;width:38.5px;height:14.4px;background:#2a7d55;"><span class="t w" style="left:50%;transform:translateX(-50%) scaleX(0.835)">&lt;built...</span></div>
<div class="s" style="left:1272.0px;top:197.9px;width:17.0px;height:14.4px;background:#2e8080;"><span class="t w" style="left:50%;transform:translateX(-50%) scaleX(0.835)">t...</span></div>
<svg class="c" style="left:1293.2px;top:197.9px" width="6.5" height="14.39" viewBox="0 0 10 20"><path d="M5 0 L10 20 L5 14 L0 20 Z" fill="#5a7a30"/></svg>
<div class="s" style="left:1299.0px;top:197.9px;width:25.8px;height:14.4px;background:#2a7d55;"><span class="t w" style="left:50%;transform:translateX(-50%) scaleX(0.835)">&lt;bu...</span></div>
<div class="s" style="left:1343.0px;top:197.9px;width:41.4px;height:14.4px;background:#2a7d55;"><span class="t w" style="left:50%;transform:translateX(-50%) scaleX(0.835)">&lt;built...</span></div>
<div class="s" style="left:1415.0px;top:197.9px;width:10.0px;height:14.4px;background:#8e7fe0;"><span class="t w" style="left:50%;transform:translateX(-50%) scaleX(0.835)">a</span></div>
<svg class="c" style="left:1427.2px;top:197.9px" width="6.5" height="14.39" viewBox="0 0 10 20"><path d="M5 0 L10 20 L5 14 L0 20 Z" fill="#4a86e0"/></svg>
<div class="s" style="left:1445.0px;top:197.9px;width:3.8px;height:14.4px;background:#4a9fe0;"></div>
<div class="s" style="left:1467.6px;top:197.9px;width:2.8px;height:14.4px;background:#4a9fe0;"></div>
<div class="s" style="left:1486.0px;top:197.9px;width:8.6px;height:14.4px;background:#8e7fe0;"><span class="t w" style="left:50%;transform:translateX(-50%) scaleX(0.835)">a</span></div>
<div class="s" style="left:1523.2px;top:197.9px;width:27.5px;height:14.4px;background:#2a7d55;"><span class="t w" style="left:50%;transform:translateX(-50%) scaleX(0.835)">&lt;bui...</span></div>
<div class="s" style="left:1567.6px;top:197.9px;width:23.0px;height:14.4px;background:#2a7d55;"><span class="t w" style="left:50%;transform:translateX(-50%) scaleX(0.835)">&lt;b...</span></div>
<div class="s" style="left:1604.6px;top:197.9px;width:22.4px;height:14.4px;background:#2a7d55;"><span class="t w" style="left:50%;transform:translateX(-50%) scaleX(0.835)">&lt;bu...</span></div>
<div class="s" style="left:1648.0px;top:197.9px;width:2.5px;height:14.4px;background:#8a5a20;"></div>
<svg class="c" style="left:1649.2px;top:197.9px" width="6.5" height="14.39" viewBox="0 0 10 20"><path d="M5 0 L10 20 L5 14 L0 20 Z" fill="#5a7a30"/></svg>
<div class="s" style="left:1655.0px;top:197.9px;width:15.0px;height:14.4px;background:#e888e0;"><span class="t d" style="left:50%;transform:translateX(-50%) scaleX(0.918)">&lt;...</span></div>
<div class="s" style="left:1675.5px;top:197.9px;width:2.5px;height:14.4px;background:#8a5a20;"></div>
<div class="s" style="left:1679.0px;top:197.9px;width:2.0px;height:14.4px;background:#968a3c;"></div>
<div class="s" style="left:1682.7px;top:197.9px;width:9.0px;height:14.4px;background:#e888e0;"><span class="t d" style="left:50%;transform:translateX(-50%) scaleX(0.918)">&lt;</span></div>
<svg class="c" style="left:1692.2px;top:197.9px" width="6.5" height="14.39" viewBox="0 0 10 20"><path d="M5 0 L10 20 L5 14 L0 20 Z" fill="#5a7a30"/></svg>
<svg class="c" style="left:1697.2px;top:197.9px" width="6.5" height="14.39" viewBox="0 0 10 20"><path d="M5 0 L10 20 L5 14 L0 20 Z" fill="#5a7a30"/></svg>
<div class="s" style="left:1705.7px;top:197.9px;width:21.9px;height:14.4px;background:#3fa9a9;"><span class="t w" style="left:50%;transform:translateX(-50%) scaleX(0.835)">at...</span></div>
<div class="s" style="left:1731.8px;top:197.9px;width:16.0px;height:14.4px;background:#3fa9a9;"><span class="t w" style="left:50%;transform:translateX(-50%) scaleX(0.835)">a...</span></div>
<div class="s" style="left:1749.5px;top:197.9px;width:9.5px;height:14.4px;background:#9a48e0;"><span class="t w" style="left:50%;transform:translateX(-50%) scaleX(0.835)">a</span></div>
<div class="s" style="left:1764.0px;top:197.9px;width:16.4px;height:14.4px;background:#3fa9a9;"><span class="t w" style="left:50%;transform:translateX(-50%) scaleX(0.835)">a...</span></div>
<div class="s" style="left:1781.0px;top:197.9px;width:7.8px;height:14.4px;background:#9a48e0;"></div>
<div class="s" style="left:1796.4px;top:197.9px;width:2.8px;height:14.4px;background:#4a9fe0;"></div>
<div class="s" style="left:1804.8px;top:197.9px;width:4.2px;height:14.4px;background:#8a5a20;"></div>
<div class="s" style="left:1813.2px;top:197.9px;width:7.1px;height:14.4px;background:#d98a3d;"></div>
<div class="s" style="left:1820.8px;top:197.9px;width:14.9px;height:14.4px;background:#e040c8;"><span class="t w" style="left:50%;transform:translateX(-50%) scaleX(0.835)">&lt;...</span></div>
<div class="s" style="left:1843.6px;top:197.9px;width:3.4px;height:14.4px;background:#4a9fe0;"></div>
<div class="s" style="left:237.0px;top:212.3px;width:3.3px;height:14.4px;background:#e85a38;"></div>
<div class="s" style="left:240.3px;top:212.3px;width:4.7px;height:14.4px;background:#44bb44;"></div>
<div class="s" style="left:285.0px;top:212.3px;width:90.0px;height:14.4px;background:#46cf6b;"><span class="t d" style="left:50%;transform:translateX(-50%) scaleX(0.918)">aten::linear</span></div>
<div class="s" style="left:399.0px;top:212.3px;width:24.5px;height:14.4px;background:#46cf6b;"><span class="t d" style="left:50%;transform:translateX(-50%) scaleX(0.918)">ate...</span></div>
<div class="s" style="left:441.4px;top:212.3px;width:21.1px;height:14.4px;background:#46cf6b;"><span class="t d" style="left:50%;transform:translateX(-50%) scaleX(0.918)">at...</span></div>
<svg class="c" style="left:485.8px;top:212.3px" width="6.5" height="14.39" viewBox="0 0 10 20"><path d="M5 0 L10 20 L5 14 L0 20 Z" fill="#5a7a30"/></svg>
<div class="s" style="left:497.7px;top:212.3px;width:13.3px;height:14.4px;background:#4a86e0;"><span class="t w" style="left:50%;transform:translateX(-50%) scaleX(0.835)">a...</span></div>
<div class="s" style="left:519.6px;top:212.3px;width:1.3px;height:14.4px;background:#968a3c;"></div>
<div class="s" style="left:526.5px;top:212.3px;width:9.1px;height:14.4px;background:#4a86e0;"><span class="t w" style="left:50%;transform:translateX(-50%) scaleX(0.835)">a</span></div>
<div class="s" style="left:555.3px;top:212.3px;width:9.4px;height:14.4px;background:linear-gradient(90deg,#c8a050 0,#e8b060 25%,#f0b890 45%,#d09840 65%,#e8a868 85%,#c89848 100%);"></div>
<svg class="c" style="left:549.8px;top:212.3px" width="6.5" height="14.39" viewBox="0 0 10 20"><path d="M5 0 L10 20 L5 14 L0 20 Z" fill="#5a7a30"/></svg>
<svg class="c" style="left:559.8px;top:212.3px" width="6.5" height="14.39" viewBox="0 0 10 20"><path d="M5 0 L10 20 L5 14 L0 20 Z" fill="#5a7a30"/></svg>
<div class="s" style="left:564.7px;top:212.3px;width:1.5px;height:14.4px;background:#e040c8;"></div>
<div class="s" style="left:566.8px;top:212.3px;width:9.1px;height:14.4px;background:#44bb44;"><span class="t d" style="left:50%;transform:translateX(-50%) scaleX(0.918)">a</span></div>
<div class="s" style="left:586.0px;top:212.3px;width:6.0px;height:14.4px;background:linear-gradient(90deg,#c8a050 0,#e8b060 25%,#f0b890 45%,#d09840 65%,#e8a868 85%,#c89848 100%);"></div>
<svg class="c" style="left:578.2px;top:212.3px" width="6.5" height="14.39" viewBox="0 0 10 20"><path d="M5 0 L10 20 L5 14 L0 20 Z" fill="#5a7a30"/></svg>
<svg class="c" style="left:583.8px;top:212.3px" width="6.5" height="14.39" viewBox="0 0 10 20"><path d="M5 0 L10 20 L5 14 L0 20 Z" fill="#5a7a30"/></svg>
<div class="s" style="left:592.0px;top:212.3px;width:1.0px;height:14.4px;background:#e040c8;"></div>
<div class="s" style="left:593.5px;top:212.3px;width:5.0px;height:14.4px;background:#44bb44;"></div>
<svg class="c" style="left:604.2px;top:212.3px" width="6.5" height="14.39" viewBox="0 0 10 20"><path d="M5 0 L10 20 L5 14 L0 20 Z" fill="#5a7a30"/></svg>
<div class="s" style="left:611.7px;top:212.3px;width:3.6px;height:14.4px;background:#4a9fe0;"></div>
<div class="s" style="left:622.5px;top:212.3px;width:7.5px;height:14.4px;background:linear-gradient(90deg,#c8a050 0,#e8b060 25%,#f0b890 45%,#d09840 65%,#e8a868 85%,#c89848 100%);"></div>
<svg class="c" style="left:622.8px;top:212.3px" width="6.5" height="14.39" viewBox="0 0 10 20"><path d="M5 0 L10 20 L5 14 L0 20 Z" fill="#5a7a30"/></svg>
<svg class="c" style="left:627.8px;top:212.3px" width="6.5" height="14.39" viewBox="0 0 10 20"><path d="M5 0 L10 20 L5 14 L0 20 Z" fill="#5a7a30"/></svg>
<div class="s" style="left:632.8px;top:212.3px;width:3.6px;height:14.4px;background:#44bb44;"></div>
<svg class="c" style="left:636.8px;top:212.3px" width="6.5" height="14.39" viewBox="0 0 10 20"><path d="M5 0 L10 20 L5 14 L0 20 Z" fill="#5a7a30"/></svg>
<div class="s" style="left:643.3px;top:212.3px;width:2.5px;height:14.4px;background:#4a9fe0;"></div>
<div class="s" style="left:664.8px;top:212.3px;width:2.2px;height:14.4px;background:#b5d99a;"></div>
<div class="s" style="left:669.0px;top:212.3px;width:1.7px;height:14.4px;background:#968a3c;"></div>
<div class="s" style="left:685.9px;top:212.3px;width:4.6px;height:14.4px;background:#4a9fe0;"></div>
<div class="s" style="left:696.0px;top:212.3px;width:12.6px;height:14.4px;background:#b0309a;"><span class="t w" style="left:50%;transform:translateX(-50%) scaleX(0.835)">a</span></div>
<div class="s" style="left:752.0px;top:212.3px;width:1.0px;height:14.4px;background:#968a3c;"></div>
<div class="s" style="left:758.0px;top:212.3px;width:3.6px;height:14.4px;background:#4a9fe0;"></div>
<div class="s" style="left:764.7px;top:212.3px;width:11.0px;height:14.4px;background:#b0309a;"><span class="t w" style="left:50%;transform:translateX(-50%) scaleX(0.835)">a</span></div>
<div class="s" style="left:834.5px;top:212.3px;width:1.5px;height:14.4px;background:#8cb843;"></div>
<div class="s" style="left:837.5px;top:212.3px;width:1.0px;height:14.4px;background:#8cb843;"></div>
<div class="s" style="left:842.7px;top:212.3px;width:2.5px;height:14.4px;background:#2a7d55;"></div>
<div class="s" style="left:869.6px;top:212.3px;width:5.7px;height:14.4px;background:#8cb843;"></div>
<div class="s" style="left:950.0px;top:212.3px;width:6.0px;height:14.4px;background:#4a9fe0;"></div>
<div class="s" style="left:965.9px;top:212.3px;width:9.9px;height:14.4px;background:#968a3c;"><span class="t w" style="left:50%;transform:translateX(-50%) scaleX(0.835)">a</span></div>
<div class="s" style="left:980.0px;top:212.3px;width:2.7px;height:14.4px;background:#e85a38;"></div>
<div class="s" style="left:983.2px;top:212.3px;width:6.3px;height:14.4px;background:#44bb44;"></div>
<div class="s" style="left:995.8px;top:212.3px;width:4.2px;height:14.4px;background:#a0c060;"></div>
<div class="s" style="left:1001.0px;top:212.3px;width:1.0px;height:14.4px;background:#8cb843;"></div>
<div class="s" style="left:1026.3px;top:212.3px;width:4.9px;height:14.4px;background:#8cb843;"></div>
<div class="s" style="left:1060.7px;top:212.3px;width:23.6px;height:14.4px;background:#46cf6b;"><span class="t d" style="left:50%;transform:translateX(-50%) scaleX(0.918)">ate...</span></div>
<div class="s" style="left:1114.8px;top:212.3px;width:2.7px;height:14.4px;background:#e85a38;"></div>
<div class="s" style="left:1117.5px;top:212.3px;width:6.4px;height:14.4px;background:#44bb44;"></div>
<div class="s" style="left:1188.0px;top:212.3px;width:2.2px;height:14.4px;background:#e85a38;"></div>
<div class="s" style="left:1190.4px;top:212.3px;width:4.5px;height:14.4px;background:#44bb44;"></div>
<div class="s" style="left:1225.2px;top:212.3px;width:36.4px;height:14.4px;background:#46cf6b;"><span class="t d" style="left:50%;transform:translateX(-50%) scaleX(0.918)">aten::...</span></div>
<svg class="c" style="left:1267.0px;top:212.3px" width="6.5" height="14.39" viewBox="0 0 10 20"><path d="M5 0 L10 20 L5 14 L0 20 Z" fill="#e03070"/></svg>
<div class="s" style="left:1273.6px;top:212.3px;width:14.8px;height:14.4px;background:#c87030;"><span class="t w" style="left:50%;transform:translateX(-50%) scaleX(0.835)">&lt;...</span></div>
<div class="s" style="left:1300.0px;top:212.3px;width:23.8px;height:14.4px;background:#46cf6b;"><span class="t d" style="left:50%;transform:translateX(-50%) scaleX(0.918)">ate...</span></div>
<div class="s" style="left:1345.2px;top:212.3px;width:38.6px;height:14.4px;background:#46cf6b;"><span class="t d" style="left:50%;transform:translateX(-50%) scaleX(0.918)">aten::...</span></div>
<div class="s" style="left:1415.0px;top:212.3px;width:3.0px;height:14.4px;background:#e85a38;"></div>
<div class="s" style="left:1418.0px;top:212.3px;width:7.0px;height:14.4px;background:#44bb44;"></div>
<div class="s" style="left:1486.0px;top:212.3px;width:3.0px;height:14.4px;background:#e85a38;"></div>
<div class="s" style="left:1489.0px;top:212.3px;width:4.7px;height:14.4px;background:#44bb44;"></div>
<div class="s" style="left:1523.8px;top:212.3px;width:26.2px;height:14.4px;background:#46cf6b;"><span class="t d" style="left:50%;transform:translateX(-50%) scaleX(0.918)">ate...</span></div>
<div class="s" style="left:1568.7px;top:212.3px;width:21.3px;height:14.4px;background:#46cf6b;"><span class="t d" style="left:50%;transform:translateX(-50%) scaleX(0.918)">at...</span></div>
<div class="s" style="left:1606.3px;top:212.3px;width:20.2px;height:14.4px;background:#46cf6b;"><span class="t d" style="left:50%;transform:translateX(-50%) scaleX(0.918)">at...</span></div>
<svg class="c" style="left:1647.8px;top:212.3px" width="6.5" height="14.39" viewBox="0 0 10 20"><path d="M5 0 L10 20 L5 14 L0 20 Z" fill="#5a7a30"/></svg>
<div class="s" style="left:1656.5px;top:212.3px;width:13.0px;height:14.4px;background:#4a86e0;"><span class="t w" style="left:50%;transform:translateX(-50%) scaleX(0.835)">a</span></div>
<svg class="c" style="left:1671.8px;top:212.3px" width="6.5" height="14.39" viewBox="0 0 10 20"><path d="M5 0 L10 20 L5 14 L0 20 Z" fill="#5a7a30"/></svg>
<svg class="c" style="left:1677.2px;top:212.3px" width="6.5" height="14.39" viewBox="0 0 10 20"><path d="M5 0 L10 20 L5 14 L0 20 Z" fill="#5a7a30"/></svg>
<div class="s" style="left:1683.2px;top:212.3px;width:7.8px;height:14.4px;background:#4a86e0;"><span class="t w" style="left:50%;transform:translateX(-50%) scaleX(0.835)">a</span></div>
<div class="s" style="left:1706.5px;top:212.3px;width:9.5px;height:14.4px;background:linear-gradient(90deg,#c8a050 0,#e8b060 25%,#f0b890 45%,#d09840 65%,#e8a868 85%,#c89848 100%);"></div>
<svg class="c" style="left:1705.8px;top:212.3px" width="6.5" height="14.39" viewBox="0 0 10 20"><path d="M5 0 L10 20 L5 14 L0 20 Z" fill="#5a7a30"/></svg>
<svg class="c" style="left:1712.8px;top:212.3px" width="6.5" height="14.39" viewBox="0 0 10 20"><path d="M5 0 L10 20 L5 14 L0 20 Z" fill="#5a7a30"/></svg>
<div class="s" style="left:1719.0px;top:212.3px;width:5.0px;height:14.4px;background:#44bb44;"></div>
<div class="s" style="left:1736.0px;top:212.3px;width:5.5px;height:14.4px;background:linear-gradient(90deg,#c8a050 0,#e8b060 25%,#f0b890 45%,#d09840 65%,#e8a868 85%,#c89848 100%);"></div>
<svg class="c" style="left:1729.8px;top:212.3px" width="6.5" height="14.39" viewBox="0 0 10 20"><path d="M5 0 L10 20 L5 14 L0 20 Z" fill="#5a7a30"/></svg>
<svg class="c" style="left:1735.2px;top:212.3px" width="6.5" height="14.39" viewBox="0 0 10 20"><path d="M5 0 L10 20 L5 14 L0 20 Z" fill="#5a7a30"/></svg>
<div class="s" style="left:1741.6px;top:212.3px;width:5.6px;height:14.4px;background:#44bb44;"></div>
<svg class="c" style="left:1749.2px;top:212.3px" width="6.5" height="14.39" viewBox="0 0 10 20"><path d="M5 0 L10 20 L5 14 L0 20 Z" fill="#5a7a30"/></svg>
<div class="s" style="left:1755.7px;top:212.3px;width:2.3px;height:14.4px;background:#4a9fe0;"></div>
<div class="s" style="left:1763.0px;top:212.3px;width:9.0px;height:14.4px;background:linear-gradient(90deg,#c8a050 0,#e8b060 25%,#f0b890 45%,#d09840 65%,#e8a868 85%,#c89848 100%);"></div>
<svg class="c" style="left:1764.8px;top:212.3px" width="6.5" height="14.39" viewBox="0 0 10 20"><path d="M5 0 L10 20 L5 14 L0 20 Z" fill="#5a7a30"/></svg>
<svg class="c" style="left:1769.8px;top:212.3px" width="6.5" height="14.39" viewBox="0 0 10 20"><path d="M5 0 L10 20 L5 14 L0 20 Z" fill="#5a7a30"/></svg>
<div class="s" style="left:1774.5px;top:212.3px;width:4.2px;height:14.4px;background:#44bb44;"></div>
<div class="s" style="left:1783.8px;top:212.3px;width:4.2px;height:14.4px;background:#4a9fe0;"></div>
<svg class="c" style="left:1802.8px;top:212.3px" width="6.5" height="14.39" viewBox="0 0 10 20"><path d="M5 0 L10 20 L5 14 L0 20 Z" fill="#5a7a30"/></svg>
<div class="s" style="left:1816.0px;top:212.3px;width:3.7px;height:14.4px;background:#4a9fe0;"></div>
<div class="s" style="left:1823.6px;top:212.3px;width:11.3px;height:14.4px;background:#b0309a;"><span class="t w" style="left:50%;transform:translateX(-50%) scaleX(0.835)">a</span></div>
<div class="s" style="left:242.4px;top:226.7px;width:2.6px;height:14.4px;background:#4a9fe0;"></div>
<div class="s" style="left:287.0px;top:226.7px;width:6.0px;height:14.4px;background:#c46a35;"></div>
<div class="s" style="left:294.0px;top:226.7px;width:80.6px;height:14.4px;background:#7a70e6;"><span class="t w" style="left:50%;transform:translateX(-50%) scaleX(0.835)">aten::matmul</span></div>
<div class="s" style="left:399.3px;top:226.7px;width:2.5px;height:14.4px;background:#c46a35;"></div>
<div class="s" style="left:402.3px;top:226.7px;width:21.2px;height:14.4px;background:#7a70e6;"><span class="t w" style="left:50%;transform:translateX(-50%) scaleX(0.835)">at...</span></div>
<div class="s" style="left:441.4px;top:226.7px;width:2.6px;height:14.4px;background:#c46a35;"></div>
<div class="s" style="left:444.6px;top:226.7px;width:17.9px;height:14.4px;background:#7a70e6;"><span class="t w" style="left:50%;transform:translateX(-50%) scaleX(0.835)">at...</span></div>
<div class="s" style="left:498.7px;top:226.7px;width:12.3px;height:14.4px;background:#8e7fe0;"><span class="t w" style="left:50%;transform:translateX(-50%) scaleX(0.835)">a</span></div>
<div class="s" style="left:527.0px;top:226.7px;width:8.6px;height:14.4px;background:#8e7fe0;"><span class="t w" style="left:50%;transform:translateX(-50%) scaleX(0.835)">a</span></div>
<svg class="c" style="left:558.2px;top:226.7px" width="6.5" height="14.39" viewBox="0 0 10 20"><path d="M5 0 L10 20 L5 14 L0 20 Z" fill="#5a7a30"/></svg>
<div class="s" style="left:571.0px;top:226.7px;width:4.3px;height:14.4px;background:#4a9fe0;"></div>
<svg class="c" style="left:588.2px;top:226.7px" width="6.5" height="14.39" viewBox="0 0 10 20"><path d="M5 0 L10 20 L5 14 L0 20 Z" fill="#5a7a30"/></svg>
<div class="s" style="left:594.9px;top:226.7px;width:2.9px;height:14.4px;background:#9ac4f0;"></div>
<svg class="c" style="left:619.2px;top:226.7px" width="6.5" height="14.39" viewBox="0 0 10 20"><path d="M5 0 L10 20 L5 14 L0 20 Z" fill="#5a7a30"/></svg>
<div class="s" style="left:627.0px;top:226.7px;width:1.0px;height:14.4px;background:#968a3c;"></div>
<div class="s" style="left:629.5px;top:226.7px;width:1.5px;height:14.4px;background:#968a3c;"></div>
<div class="s" style="left:633.2px;top:226.7px;width:3.2px;height:14.4px;background:#9ac4f0;"></div>
<div class="s" style="left:702.7px;top:226.7px;width:5.3px;height:14.4px;background:#4a9fe0;"></div>
<div class="s" style="left:770.0px;top:226.7px;width:4.9px;height:14.4px;background:#4a9fe0;"></div>
<div class="s" style="left:970.5px;top:226.7px;width:4.7px;height:14.4px;background:#4a9fe0;"></div>
<div class="s" style="left:985.7px;top:226.7px;width:3.8px;height:14.4px;background:#4a9fe0;"></div>
<div class="s" style="left:1061.0px;top:226.7px;width:2.2px;height:14.4px;background:#c46a35;"></div>
<div class="s" style="left:1063.6px;top:226.7px;width:21.1px;height:14.4px;background:#7a70e6;"><span class="t w" style="left:50%;transform:translateX(-50%) scaleX(0.835)">at...</span></div>
<div class="s" style="left:1119.4px;top:226.7px;width:4.5px;height:14.4px;background:#4a9fe0;"></div>
<div class="s" style="left:1191.7px;top:226.7px;width:3.2px;height:14.4px;background:#4a9fe0;"></div>
<div class="s" style="left:1224.8px;top:226.7px;width:3.2px;height:14.4px;background:#c46a35;"></div>
<div class="s" style="left:1228.5px;top:226.7px;width:33.1px;height:14.4px;background:#7a70e6;"><span class="t w" style="left:50%;transform:translateX(-50%) scaleX(0.835)">aten:...</span></div>
<div class="s" style="left:1274.9px;top:226.7px;width:13.1px;height:14.4px;background:#8a5a20;"><span class="t w" style="left:50%;transform:translateX(-50%) scaleX(0.835)">a</span></div>
<div class="s" style="left:1300.6px;top:226.7px;width:2.6px;height:14.4px;background:#c46a35;"></div>
<div class="s" style="left:1303.7px;top:226.7px;width:20.1px;height:14.4px;background:#7a70e6;"><span class="t w" style="left:50%;transform:translateX(-50%) scaleX(0.835)">at...</span></div>
<div class="s" style="left:1345.9px;top:226.7px;width:3.1px;height:14.4px;background:#c46a35;"></div>
<div class="s" style="left:1349.4px;top:226.7px;width:32.9px;height:14.4px;background:#7a70e6;"><span class="t w" style="left:50%;transform:translateX(-50%) scaleX(0.835)">aten:...</span></div>
<div class="s" style="left:1420.7px;top:226.7px;width:3.7px;height:14.4px;background:#4a9fe0;"></div>
<div class="s" style="left:1491.0px;top:226.7px;width:2.7px;height:14.4px;background:#4a9fe0;"></div>
<div class="s" style="left:1524.6px;top:226.7px;width:2.9px;height:14.4px;background:#c46a35;"></div>
<div class="s" style="left:1528.3px;top:226.7px;width:22.4px;height:14.4px;background:#7a70e6;"><span class="t w" style="left:50%;transform:translateX(-50%) scaleX(0.835)">ate...</span></div>
<div class="s" style="left:1571.0px;top:226.7px;width:2.8px;height:14.4px;background:#c46a35;"></div>
<div class="s" style="left:1574.3px;top:226.7px;width:15.7px;height:14.4px;background:#7a70e6;"><span class="t w" style="left:50%;transform:translateX(-50%) scaleX(0.835)">a...</span></div>
<div class="s" style="left:1606.8px;top:226.7px;width:2.2px;height:14.4px;background:#c46a35;"></div>
<div class="s" style="left:1609.0px;top:226.7px;width:17.5px;height:14.4px;background:#7a70e6;"><span class="t w" style="left:50%;transform:translateX(-50%) scaleX(0.835)">at...</span></div>
<div class="s" style="left:1656.5px;top:226.7px;width:13.0px;height:14.4px;background:#8e7fe0;"><span class="t w" style="left:50%;transform:translateX(-50%) scaleX(0.835)">a</span></div>
<div class="s" style="left:1683.2px;top:226.7px;width:7.8px;height:14.4px;background:#8e7fe0;"><span class="t w" style="left:50%;transform:translateX(-50%) scaleX(0.835)">a</span></div>
<svg class="c" style="left:1703.8px;top:226.7px" width="6.5" height="14.39" viewBox="0 0 10 20"><path d="M5 0 L10 20 L5 14 L0 20 Z" fill="#5a7a30"/></svg>
<div class="s" style="left:1722.0px;top:226.7px;width:4.2px;height:14.4px;background:#4a9fe0;"></div>
<svg class="c" style="left:1735.2px;top:226.7px" width="6.5" height="14.39" viewBox="0 0 10 20"><path d="M5 0 L10 20 L5 14 L0 20 Z" fill="#5a7a30"/></svg>
<div class="s" style="left:1741.6px;top:226.7px;width:2.9px;height:14.4px;background:#9ac4f0;"></div>
<div class="s" style="left:1769.7px;top:226.7px;width:1.3px;height:14.4px;background:#968a3c;"></div>
<div class="s" style="left:1772.5px;top:226.7px;width:1.5px;height:14.4px;background:#968a3c;"></div>
<div class="s" style="left:1775.3px;top:226.7px;width:2.9px;height:14.4px;background:#9ac4f0;"></div>
<div class="s" style="left:1830.0px;top:226.7px;width:4.9px;height:14.4px;background:#4a9fe0;"></div>
<div class="s" style="left:290.0px;top:241.0px;width:2.3px;height:14.4px;background:#968a3c;"></div>
<div class="s" style="left:296.7px;top:241.0px;width:1.3px;height:14.4px;background:#8cb843;"></div>
<div class="s" style="left:299.0px;top:241.0px;width:72.0px;height:14.4px;background:#a8246c;"><span class="t w" style="left:50%;transform:translateX(-50%) scaleX(0.835)">aten::mm</span></div>
<div class="s" style="left:371.5px;top:241.0px;width:3.1px;height:14.4px;background:#f9d2e6;"></div>
<div class="s" style="left:399.3px;top:241.0px;width:3.7px;height:14.4px;background:#b5d99a;"></div>
<div class="s" style="left:403.5px;top:241.0px;width:17.3px;height:14.4px;background:#a8246c;"><span class="t w" style="left:50%;transform:translateX(-50%) scaleX(0.835)">a...</span></div>
<div class="s" style="left:420.8px;top:241.0px;width:2.2px;height:14.4px;background:#f9d2e6;"></div>
<div class="s" style="left:441.4px;top:241.0px;width:3.6px;height:14.4px;background:#8cb843;"></div>
<div class="s" style="left:445.6px;top:241.0px;width:15.2px;height:14.4px;background:#a8246c;"><span class="t w" style="left:50%;transform:translateX(-50%) scaleX(0.835)">a...</span></div>
<svg class="c" style="left:459.2px;top:241.0px" width="6.5" height="14.39" viewBox="0 0 10 20"><path d="M5 0 L10 20 L5 14 L0 20 Z" fill="#c89af0"/></svg>
<div class="s" style="left:498.3px;top:241.0px;width:3.0px;height:14.4px;background:#e85a38;"></div>
<div class="s" style="left:501.9px;top:241.0px;width:8.4px;height:14.4px;background:#44bb44;"></div>
<div class="s" style="left:527.0px;top:241.0px;width:3.0px;height:14.4px;background:#e85a38;"></div>
<div class="s" style="left:530.0px;top:241.0px;width:6.2px;height:14.4px;background:#44bb44;"></div>
<div class="s" style="left:1061.0px;top:241.0px;width:1.2px;height:14.4px;background:#968a3c;"></div>
<div class="s" style="left:1062.8px;top:241.0px;width:1.2px;height:14.4px;background:#44bb44;"></div>
<div class="s" style="left:1064.9px;top:241.0px;width:16.8px;height:14.4px;background:#a8246c;"><span class="t w" style="left:50%;transform:translateX(-50%) scaleX(0.835)">a...</span></div>
<div class="s" style="left:1081.7px;top:241.0px;width:2.6px;height:14.4px;background:#f9d2e6;"></div>
<div class="s" style="left:1225.8px;top:241.0px;width:1.2px;height:14.4px;background:#968a3c;"></div>
<div class="s" style="left:1229.0px;top:241.0px;width:2.0px;height:14.4px;background:#8cb843;"></div>
<div class="s" style="left:1231.7px;top:241.0px;width:26.8px;height:14.4px;background:#a8246c;"><span class="t w" style="left:50%;transform:translateX(-50%) scaleX(0.835)">ate...</span></div>
<div class="s" style="left:1258.5px;top:241.0px;width:3.1px;height:14.4px;background:#f9d2e6;"></div>
<div class="s" style="left:1283.7px;top:241.0px;width:4.7px;height:14.4px;background:#4a9fe0;"></div>
<div class="s" style="left:1301.6px;top:241.0px;width:1.4px;height:14.4px;background:#968a3c;"></div>
<div class="s" style="left:1304.5px;top:241.0px;width:1.3px;height:14.4px;background:#8cb843;"></div>
<div class="s" style="left:1306.5px;top:241.0px;width:15.1px;height:14.4px;background:#a8246c;"><span class="t w" style="left:50%;transform:translateX(-50%) scaleX(0.835)">a...</span></div>
<div class="s" style="left:1321.6px;top:241.0px;width:2.2px;height:14.4px;background:#f9d2e6;"></div>
<div class="s" style="left:1347.0px;top:241.0px;width:1.2px;height:14.4px;background:#968a3c;"></div>
<div class="s" style="left:1350.0px;top:241.0px;width:1.0px;height:14.4px;background:#8cb843;"></div>
<div class="s" style="left:1351.5px;top:241.0px;width:29.1px;height:14.4px;background:#a8246c;"><span class="t w" style="left:50%;transform:translateX(-50%) scaleX(0.835)">aten...</span></div>
<div class="s" style="left:1380.6px;top:241.0px;width:2.4px;height:14.4px;background:#f9d2e6;"></div>
<div class="s" style="left:1524.6px;top:241.0px;width:1.4px;height:14.4px;background:#968a3c;"></div>
<div class="s" style="left:1527.5px;top:241.0px;width:1.3px;height:14.4px;background:#8cb843;"></div>
<div class="s" style="left:1531.0px;top:241.0px;width:17.0px;height:14.4px;background:#a8246c;"><span class="t w" style="left:50%;transform:translateX(-50%) scaleX(0.835)">a...</span></div>
<div class="s" style="left:1548.0px;top:241.0px;width:2.7px;height:14.4px;background:#f9d2e6;"></div>
<svg class="c" style="left:1567.2px;top:241.0px" width="6.5" height="14.39" viewBox="0 0 10 20"><path d="M5 0 L10 20 L5 14 L0 20 Z" fill="#5a7a30"/></svg>
<div class="s" style="left:1574.3px;top:241.0px;width:13.5px;height:14.4px;background:#a8246c;"><span class="t w" style="left:50%;transform:translateX(-50%) scaleX(0.835)">a...</span></div>
<div class="s" style="left:1587.8px;top:241.0px;width:2.8px;height:14.4px;background:#f9d2e6;"></div>
<svg class="c" style="left:1603.2px;top:241.0px" width="6.5" height="14.39" viewBox="0 0 10 20"><path d="M5 0 L10 20 L5 14 L0 20 Z" fill="#5a7a30"/></svg>
<div class="s" style="left:1610.2px;top:241.0px;width:14.8px;height:14.4px;background:#a8246c;"><span class="t w" style="left:50%;transform:translateX(-50%) scaleX(0.835)">a...</span></div>
<div class="s" style="left:1656.5px;top:241.0px;width:3.7px;height:14.4px;background:#e85a38;"></div>
<div class="s" style="left:1660.2px;top:241.0px;width:9.3px;height:14.4px;background:#44bb44;"></div>
<div class="s" style="left:1683.2px;top:241.0px;width:3.7px;height:14.4px;background:#e85a38;"></div>
<div class="s" style="left:1686.9px;top:241.0px;width:4.1px;height:14.4px;background:#44bb44;"></div>
<svg class="c" style="left:1769.2px;top:241.0px" width="6.5" height="14.39" viewBox="0 0 10 20"><path d="M5 0 L10 20 L5 14 L0 20 Z" fill="#5a7a30"/></svg>
<div class="s" style="left:565.0px;top:212.3px;width:1.5px;height:43.2px;background:#8a9a40;"></div>
<div class="s" style="left:1717.0px;top:212.3px;width:1.5px;height:43.2px;background:#8a9a40;"></div>
<div class="s" style="left:290.0px;top:255.4px;width:2.3px;height:14.4px;background:#968a3c;"></div>
<div class="s" style="left:296.7px;top:255.4px;width:1.3px;height:14.4px;background:#8cb843;"></div>
<div class="s" style="left:363.5px;top:255.4px;width:5.9px;height:14.4px;background:#8cb843;"></div>
<div class="s" style="left:399.3px;top:255.4px;width:4.7px;height:14.4px;background:#b5d99a;"></div>
<div class="s" style="left:414.5px;top:255.4px;width:5.9px;height:14.4px;background:#8cb843;"></div>
<div class="s" style="left:441.4px;top:255.4px;width:1.6px;height:14.4px;background:#968a3c;"></div>
<div class="s" style="left:455.0px;top:255.4px;width:5.0px;height:14.4px;background:#8cb843;"></div>
<div class="s" style="left:505.5px;top:255.4px;width:5.2px;height:14.4px;background:#4a9fe0;"></div>
<div class="s" style="left:531.4px;top:255.4px;width:4.2px;height:14.4px;background:#4a9fe0;"></div>
<div class="s" style="left:1061.0px;top:255.4px;width:1.2px;height:14.4px;background:#968a3c;"></div>
<div class="s" style="left:1062.8px;top:255.4px;width:2.0px;height:14.4px;background:#44bb44;"></div>
<div class="s" style="left:1076.5px;top:255.4px;width:4.5px;height:14.4px;background:#8cb843;"></div>
<div class="s" style="left:1225.8px;top:255.4px;width:1.2px;height:14.4px;background:#968a3c;"></div>
<div class="s" style="left:1229.0px;top:255.4px;width:2.5px;height:14.4px;background:#8cb843;"></div>
<div class="s" style="left:1251.7px;top:255.4px;width:5.1px;height:14.4px;background:#8cb843;"></div>
<div class="s" style="left:1301.6px;top:255.4px;width:1.4px;height:14.4px;background:#968a3c;"></div>
<div class="s" style="left:1304.5px;top:255.4px;width:1.3px;height:14.4px;background:#8cb843;"></div>
<div class="s" style="left:1315.7px;top:255.4px;width:4.9px;height:14.4px;background:#8cb843;"></div>
<div class="s" style="left:1347.0px;top:255.4px;width:1.2px;height:14.4px;background:#968a3c;"></div>
<div class="s" style="left:1350.0px;top:255.4px;width:1.0px;height:14.4px;background:#8cb843;"></div>
<div class="s" style="left:1374.3px;top:255.4px;width:5.3px;height:14.4px;background:#8cb843;"></div>
<div class="s" style="left:1524.6px;top:255.4px;width:1.4px;height:14.4px;background:#968a3c;"></div>
<div class="s" style="left:1527.5px;top:255.4px;width:2.5px;height:14.4px;background:#8cb843;"></div>
<div class="s" style="left:1542.3px;top:255.4px;width:4.7px;height:14.4px;background:#8cb843;"></div>
<div class="s" style="left:1572.4px;top:255.4px;width:1.1px;height:14.4px;background:#968a3c;"></div>
<div class="s" style="left:1582.8px;top:255.4px;width:5.0px;height:14.4px;background:#8cb843;"></div>
<div class="s" style="left:1609.0px;top:255.4px;width:1.2px;height:14.4px;background:#968a3c;"></div>
<div class="s" style="left:1618.0px;top:255.4px;width:5.7px;height:14.4px;background:#8cb843;"></div>
<div class="s" style="left:1664.4px;top:255.4px;width:4.2px;height:14.4px;background:#4a9fe0;"></div>
<div class="s" style="left:1687.7px;top:255.4px;width:2.8px;height:14.4px;background:#4a9fe0;"></div>
<svg class="c" style="left:0;top:0" width="1854" height="712"><path d="M1256.8 262 C1281 262 1240 341 1261.8 341" fill="none" stroke="#d2733c" stroke-width="1.6"/></svg>
<span class="lbl" style="left:9.5px;top:149.3px;line-height:12.0px;font-size:10px;color:#707070;transform:scaleX(0.896);">thread 220951 (python3.10) 220951</span>
<div class="hd" style="top:300.7px;height:30.7px"></div>
<svg class="c" style="left:10.5px;top:313.3px" width="10" height="7" viewBox="0 0 10 7"><path d="M1 6 L5 1.5 L9 6" fill="none" stroke="#fff" stroke-width="2"/></svg>
<span class="lbl" style="left:28.5px;top:310.3px;line-height:13.8px;font-size:11.5px;color:#fff;font-weight:bold;transform:scaleX(0.740);">python3.10 2</span>
<span class="lbl" style="left:12.0px;top:342.1px;line-height:12.6px;font-size:10.5px;color:#888;transform:scaleX(0.809);">Thread 0</span>
<div class="s" style="left:206.2px;top:334.4px;width:5.7px;height:13.4px;background:#a0522d;"></div>
<div class="s" style="left:230.5px;top:334.4px;width:7.9px;height:13.4px;background:#f09af0;"></div>
<div class="s" style="left:248.6px;top:334.4px;width:2.2px;height:13.4px;background:#a08030;"></div>
<div class="s" style="left:262.0px;top:334.4px;width:3.7px;height:13.4px;background:#1f5f5f;"></div>
<div class="s" style="left:375.4px;top:334.4px;width:39.2px;height:13.4px;background:#2b8a57;"><span class="t w" style="left:50%;transform:translateX(-50%) scaleX(0.835)">Cijk_A...</span></div>
<div class="s" style="left:423.5px;top:334.4px;width:36.0px;height:13.4px;background:#2b8a57;"><span class="t w" style="left:50%;transform:translateX(-50%) scaleX(0.835)">Cijk_...</span></div>
<div class="s" style="left:464.2px;top:334.4px;width:35.3px;height:13.4px;background:#2b8a57;"><span class="t w" style="left:50%;transform:translateX(-50%) scaleX(0.835)">Cijk_...</span></div>
<div class="s" style="left:512.6px;top:334.4px;width:5.0px;height:13.4px;background:#a08a30;"></div>
<div class="s" style="left:541.2px;top:334.4px;width:2.7px;height:13.4px;background:#a08a30;"></div>
<div class="s" style="left:582.0px;top:334.4px;width:2.0px;height:13.4px;background:#8ab8f0;"></div>
<div class="s" style="left:603.2px;top:334.4px;width:2.2px;height:13.4px;background:#e85030;"></div>
<div class="s" style="left:619.8px;top:334.4px;width:4.0px;height:13.4px;background:#3a90b0;"></div>
<div class="s" style="left:642.0px;top:334.4px;width:2.6px;height:13.4px;background:#e85030;"></div>
<div class="s" style="left:648.4px;top:334.4px;width:3.8px;height:13.4px;background:#3a90b0;"></div>
<div class="s" style="left:660.6px;top:334.4px;width:9.2px;height:13.4px;background:#8cb843;"></div>
<div class="s" style="left:696.6px;top:334.4px;width:6.9px;height:13.4px;background:#e040c8;"></div>
<div class="s" style="left:710.7px;top:334.4px;width:14.4px;height:13.4px;background:#f4a873;"><span class="t d" style="left:50%;transform:translateX(-50%) scaleX(0.918)">v...</span></div>
<div class="s" style="left:725.1px;top:334.4px;width:4.7px;height:13.4px;background:#8cb843;"></div>
<div class="s" style="left:736.8px;top:334.4px;width:2.7px;height:13.4px;background:#e83e8c;"></div>
<div class="s" style="left:743.7px;top:334.4px;width:5.5px;height:13.4px;background:#8cb843;"></div>
<div class="s" style="left:767.8px;top:334.4px;width:3.7px;height:13.4px;background:#e040c8;"></div>
<div class="s" style="left:778.5px;top:334.4px;width:14.1px;height:13.4px;background:#f4a873;"><span class="t d" style="left:50%;transform:translateX(-50%) scaleX(0.918)">v...</span></div>
<div class="s" style="left:792.6px;top:334.4px;width:4.2px;height:13.4px;background:#8cb843;"></div>
<div class="s" style="left:796.8px;top:334.4px;width:3.2px;height:13.4px;background:#e83e8c;"></div>
<div class="s" style="left:815.0px;top:334.4px;width:13.6px;height:13.4px;background:#f4a873;"><span class="t d" style="left:50%;transform:translateX(-50%) scaleX(0.918)">v</span></div>
<div class="s" style="left:828.6px;top:334.4px;width:14.1px;height:13.4px;background:#f4a873;"><span class="t d" style="left:50%;transform:translateX(-50%) scaleX(0.918)">v...</span></div>
<div class="s" style="left:881.2px;top:334.4px;width:7.7px;height:13.4px;background:#2b8a57;"></div>
<div class="s" style="left:909.2px;top:334.4px;width:2.8px;height:13.4px;background:#7a70e6;"></div>
<div class="s" style="left:922.1px;top:334.4px;width:5.2px;height:13.4px;background:#2f8a70;"></div>
<div class="s" style="left:963.0px;top:334.4px;width:2.5px;height:13.4px;background:#c03060;"></div>
<div class="s" style="left:979.5px;top:334.4px;width:4.5px;height:13.4px;background:#c0c0f8;"></div>
<div class="s" style="left:992.4px;top:334.4px;width:1.9px;height:13.4px;background:#a08030;"></div>
<div class="s" style="left:1037.5px;top:334.4px;width:9.5px;height:13.4px;background:#8ac0f0;"><span class="t d" style="left:50%;transform:translateX(-50%) scaleX(0.918)">C</span></div>
<div class="s" style="left:1086.9px;top:334.4px;width:37.2px;height:13.4px;background:#2b8a57;"><span class="t w" style="left:50%;transform:translateX(-50%) scaleX(0.835)">Cijk_A...</span></div>
<div class="s" style="left:1124.1px;top:334.4px;width:4.2px;height:13.4px;background:#e83e8c;"></div>
<div class="s" style="left:1128.8px;top:334.4px;width:2.7px;height:13.4px;background:#3a9a9a;"></div>
<div class="s" style="left:1139.0px;top:334.4px;width:2.5px;height:13.4px;background:#d080f0;"></div>
<div class="s" style="left:1153.1px;top:334.4px;width:13.7px;height:13.4px;background:#f4a873;"><span class="t d" style="left:50%;transform:translateX(-50%) scaleX(0.918)">v</span></div>
<div class="s" style="left:1166.8px;top:334.4px;width:2.5px;height:13.4px;background:#c8a040;"></div>
<div class="s" style="left:1173.5px;top:334.4px;width:3.2px;height:13.4px;background:#a0522d;"></div>
<div class="s" style="left:1182.9px;top:334.4px;width:6.7px;height:13.4px;background:#f09af0;"></div>
<div class="s" style="left:1198.3px;top:334.4px;width:3.5px;height:13.4px;background:#a08a30;"></div>
<div class="s" style="left:1209.0px;top:334.4px;width:3.0px;height:13.4px;background:#1f6f5f;"></div>
<div class="s" style="left:1454.7px;top:334.4px;width:2.7px;height:13.4px;background:#b09030;"></div>
<div class="s" style="left:1457.4px;top:334.4px;width:189.4px;height:13.4px;background:#2b8a57;"><span class="t w" style="left:50%;transform:translateX(-50%) scaleX(0.835)">Cijk_Alik_Bljk_HHS_BH_MT128x64x64_MI32...</span></div>
<div class="s" style="left:1646.8px;top:334.4px;width:2.2px;height:13.4px;background:#2a6a7a;"></div>
<div class="s" style="left:1649.0px;top:334.4px;width:197.7px;height:13.4px;background:#2b8a57;"><span class="t w" style="left:50%;transform:translateX(-50%) scaleX(0.835)">Cijk_Alik_Bljk_HHS_BH_MT128x96x64_MI32x32...</span></div>
<div class="s" style="left:1846.7px;top:334.4px;width:3.3px;height:13.4px;background:#e83e8c;"></div>
<div class="s" style="left:1261.8px;top:332.3px;width:192.6px;height:17.4px;background:#1a5238;box-sizing:border-box;border:1.5px solid #0c1f16;"><span class="t w" style="left:50%;transform:translateX(-50%) scaleX(0.835)">Cijk_Alik_Bljk_HHS_BH_MT128x64x64_MI32x...</span></div>
<div class="hd" style="top:364.8px;height:30.9px"></div>
<svg class="c" style="left:10.5px;top:377.2px" width="10" height="7" viewBox="0 0 10 7"><path d="M1 6 L5 1.5 L9 6" fill="none" stroke="#fff" stroke-width="2"/></svg>
<span class="lbl" style="left:28.5px;top:374.1px;line-height:13.8px;font-size:11.5px;color:#fff;font-weight:bold;transform:scaleX(0.740);">python3.10 0</span>
<span class="lbl" style="left:12.0px;top:434.7px;line-height:12.6px;font-size:10.5px;color:#888;transform:scaleX(0.809);">Thread 0</span>
<div class="s" style="left:202.3px;top:397.6px;width:2345.7px;height:14.6px;background:#8a5f24;"><span class="t w" style="left:50%;transform:translateX(-50%) scaleX(0.835)">PyTorch Profiler (0)</span></div>
<div class="s" style="left:202.3px;top:411.9px;width:2345.7px;height:14.6px;background:#c035a8;"><span class="t w" style="left:50%;transform:translateX(-50%) scaleX(0.835)">threading.py(973): _bootstrap</span></div>
<div class="s" style="left:202.3px;top:426.3px;width:2345.7px;height:14.6px;background:#7580e8;"><span class="t w" style="left:50%;transform:translateX(-50%) scaleX(0.835)">threading.py(1016): _bootstrap_inner</span></div>
<div class="s" style="left:202.3px;top:440.6px;width:2345.7px;height:14.6px;background:#48a9b0;"><span class="t w" style="left:50%;transform:translateX(-50%) scaleX(0.835)">tqdm/_monitor.py(60): run</span></div>
<div class="s" style="left:202.3px;top:454.9px;width:2345.7px;height:14.6px;background:#a83fdc;"><span class="t w" style="left:50%;transform:translateX(-50%) scaleX(0.835)">threading.py(607): wait</span></div>
<div class="s" style="left:202.3px;top:469.2px;width:2345.7px;height:14.6px;background:#a83fdc;"><span class="t w" style="left:50%;transform:translateX(-50%) scaleX(0.835)">threading.py(324): wait</span></div>
<div class="s" style="left:202.3px;top:396px;width:1648px;height:2.6px;background:#eadfcd"></div>
<div class="s" style="left:8px;top:484.5px;width:1842px;height:1.6px;background:#e6e6e6"></div>
<div class="s" style="left:8px;top:620.7px;width:1842px;height:22.5px;background:#ededed;border-bottom:1px solid #c8c8c8"></div>
<div class="s" style="left:8px;top:624.5px;width:84.2px;height:20px;background:#fff"></div>
<div class="s" style="left:93.3px;top:623.6px;width:65.5px;height:19.6px;background:#e6e6e6;border:1px solid #c4c4c4;border-bottom:none;border-radius:2px 2px 0 0;box-sizing:border-box"></div>
<span class="lbl" style="left:14.3px;top:626.9px;line-height:12.6px;font-size:10.5px;color:#555;transform:scaleX(0.863);">Current Selection</span>
<span class="lbl" style="left:101.5px;top:626.9px;line-height:12.6px;font-size:10.5px;color:#444;transform:scaleX(0.848);">Flow Events</span>
<span class="lbl" style="left:11.3px;top:650.9px;line-height:16.8px;font-size:14px;color:#333;transform:scaleX(0.799);">Slice Details</span>
<span class="lbl" style="left:13.3px;top:673.6px;line-height:13.2px;font-size:11px;color:#2e2e2e;transform:scaleX(0.842);">Name</span>
<span class="lbl" style="left:13.3px;top:691.0px;line-height:13.2px;font-size:11px;color:#2e2e2e;transform:scaleX(0.858);">Category</span>
<span class="lbl" style="left:67.2px;top:691.0px;line-height:13.2px;font-size:11px;color:#7c828a;transform:scaleX(0.834);">kernel</span>
<span class="lbl" style="left:67.2px;top:673.6px;line-height:13.2px;font-size:11px;color:#7c828a;transform:scaleX(0.816)">Cijk_Alik_Bljk_HHS_BH_MT128x64x64_MI32x32x8x1_SE_1LDSB1_APM1_ABV0_ACED0_AF0EM8_AF1EM1_AMAS3_ASGT_ASAE01_ASCE01_ASEM1_AAC0_BL1_BS1_DTL0_DTVA0_DVO0_ETSP_EPS0_FL0_GRVW8_GSU1_GSUAMB_GLS0_ISA90a_IU1_K1_KLA_LBSPP128_LPA8_LPB8_LDL1_LRVW8_LWPMn1_LDW0_MAC_MIAV0_MDA2_NTC0_NTD0_NEPBS0_NLCA1_NLCB1_ONLL1_OPLV0_PK0_PAP0_PGR2_PLR9_RK0_SIA3_SS1_SU32_SUM0_SUS256_SCIUI1_SPO0_SRVW0_SSO0_SVW4_SNLL0_TT4_64_TLDS1</span>
</div></div><div style="position:absolute;left:0;top:0;width:1854px;height:712px;backdrop-filter:blur(1px);opacity:0.55"></div></body></html>
